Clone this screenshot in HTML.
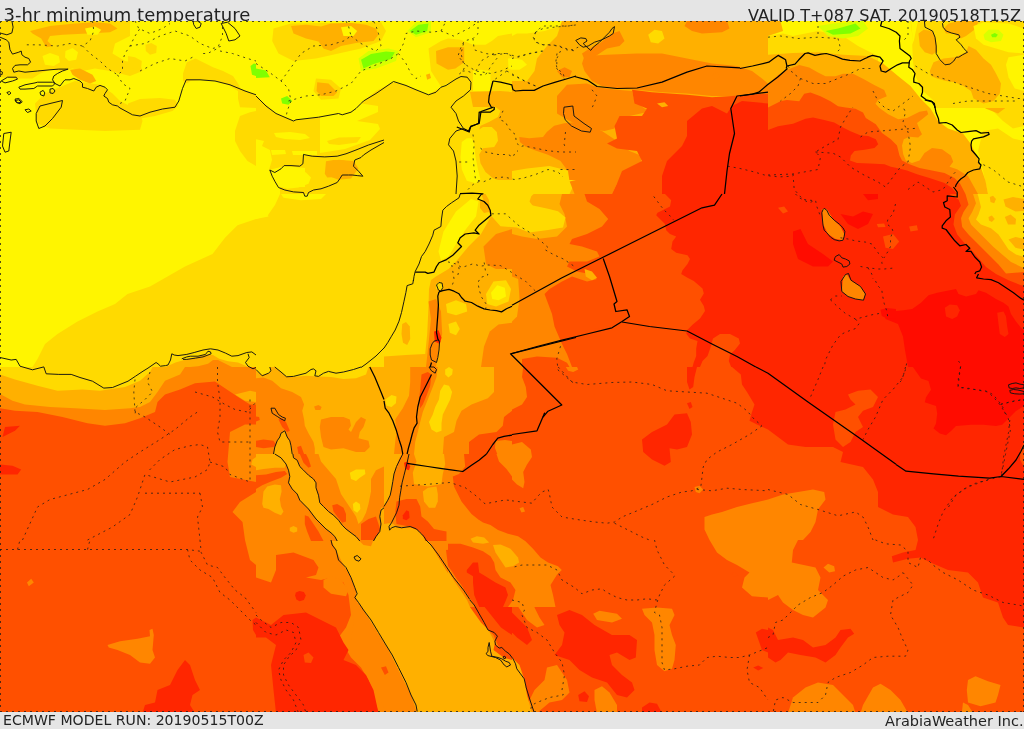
<!DOCTYPE html>
<html><head><meta charset="utf-8"><title>3-hr minimum temperature</title>
<style>
html,body{margin:0;padding:0;background:#e5e5e5;}
body{width:1024px;height:729px;position:relative;overflow:hidden;font-family:"DejaVu Sans","Liberation Sans",sans-serif;color:#222;}
.t{position:absolute;white-space:nowrap;line-height:30px;}
#map{position:absolute;left:0;top:21px;width:1024px;height:691px;display:block;}
.c{fill:none;stroke:#111;stroke-width:0.95;stroke-linejoin:round;}
.b{fill:none;stroke:#000;stroke-width:1.25;stroke-linejoin:round;}
.d{fill:none;stroke:#1a1a1a;stroke-width:1;stroke-dasharray:2 4;opacity:.75}
</style></head><body>
<div class="t" id="tl" style="left:3.5px;top:0px;font-size:18px">3-hr minimum temperature</div>
<div class="t" id="tr" style="left:748px;top:1px;font-size:16.1px">VALID T+087 SAT. 20190518T15Z</div>
<svg id="map" viewBox="0 21 1024 691" shape-rendering="geometricPrecision">
<rect x="0" y="21" width="1024" height="691" fill="#FF5000"/>
<polygon fill="#FF8600" points="0.0,367.0 256.0,367.0 256.0,404.5 250.0,404.5 240.0,398.2 225.0,388.2 215.0,381.5 195.0,383.2 180.0,389.5 165.0,394.5 157.5,402.0 155.0,412.0 140.0,418.2 125.0,423.2 105.0,425.8 87.5,423.2 62.5,417.0 37.5,412.0 15.0,410.8 0.0,408.2"/>
<polygon fill="#FF8600" points="230.0,432.0 245.0,424.5 256.0,424.5 256.0,482.0 230.0,477.0 227.5,462.0"/>
<polygon fill="#FF8600" points="256.0,492.0 240.0,502.0 232.5,512.0 242.5,522.0 245.0,540.0 256.0,540.0"/>
<polygon fill="#FFB000" points="0.0,367.0 185.0,367.0 180.0,374.5 165.0,380.8 157.5,392.0 150.0,402.0 140.0,407.0 130.0,408.2 105.0,410.0 75.0,408.2 50.0,407.0 25.0,404.5 12.5,400.8 0.0,394.0"/>
<polygon fill="#FFB000" points="235.0,394.5 250.0,390.8 256.0,392.0 256.0,402.0 245.0,400.8"/>
<polygon fill="#FFB000" points="256.0,457.0 252.5,459.5 251.2,464.5 256.0,467.0"/>
<polygon fill="#FFB000" points="256.0,367.0 512.0,367.0 512.0,540.0 256.0,540.0"/>
<polygon fill="#FFB000" points="331.0,540.0 428.5,540.0 438.5,557.5 451.0,577.5 463.5,595.0 476.0,612.5 488.5,627.5 496.0,637.5 493.5,650.0 503.5,657.5 512.0,660.0 512.0,713.0 416.0,713.0 406.0,695.0 396.0,675.0 386.0,657.5 378.5,645.0 373.5,635.0 366.0,622.5 358.5,610.0 353.5,602.5 353.5,590.0 348.5,577.5 341.0,565.0 333.5,550.0"/>
<polygon fill="#FFB000" points="512.0,21.0 768.0,21.0 768.0,194.0 512.0,194.0"/>
<polygon fill="#FFF500" points="768.0,21.0 1024.0,21.0 1024.0,194.0 768.0,194.0"/>
<polygon fill="#FFDA00" points="0.0,21.0 256.0,21.0 256.0,194.0 0.0,194.0"/>
<polygon fill="#FFDA00" points="0.0,194.0 256.0,194.0 256.0,367.0 0.0,367.0"/>
<polygon fill="#FFDA00" points="0.0,367.0 152.5,367.0 150.0,372.0 140.0,380.8 125.0,387.0 100.0,390.8 82.5,389.5 57.5,390.8 37.5,385.8 15.0,379.5 0.0,374.5"/>
<polygon fill="#FFDA00" points="256.0,21.0 512.0,21.0 512.0,194.0 256.0,194.0"/>
<polygon fill="#FFDA00" points="256.0,194.0 512.0,194.0 512.0,367.0 256.0,367.0"/>
<polygon fill="#FFDA00" points="274.8,367.0 368.5,367.0 366.0,374.5 356.0,378.2 343.5,378.9 331.0,377.0 318.5,376.4 306.0,375.8 293.5,377.0 286.6,376.8 281.0,372.0"/>
<polygon fill="#FFDA00" points="256.0,367.0 269.8,367.0 271.0,370.8 268.5,373.2 262.2,375.1 256.0,370.8"/>
<polygon fill="#FFDA00" points="512.0,21.0 562.0,21.0 557.0,36.0 547.0,46.0 537.0,58.5 534.5,71.0 527.0,81.0 512.0,81.0"/>
<polygon fill="#FFDA00" points="648.2,34.8 654.5,29.8 662.0,31.0 664.5,38.5 658.2,43.5 650.8,42.2"/>
<polygon fill="#FFDA00" points="512.0,171.0 527.0,168.5 549.5,166.0 569.5,171.0 574.5,183.5 569.5,194.0 512.0,194.0"/>
<polygon fill="#FFDA00" points="768.0,36.0 783.0,33.5 793.0,36.0 818.0,31.0 843.0,36.0 858.0,46.0 868.0,51.0 878.0,56.0 878.0,63.5 868.0,66.0 843.0,63.5 818.0,63.5 793.0,63.5 768.0,61.0"/>
<polygon fill="#FFDA00" points="910.5,21.0 958.0,21.0 968.0,31.0 973.0,46.0 988.0,61.0 1005.5,71.0 1018.0,81.0 1024.0,83.5 1024.0,126.0 1013.0,128.5 1003.0,121.0 993.0,111.0 983.0,103.5 968.0,101.0 955.5,96.0 943.0,86.0 930.5,73.5 923.0,58.5 913.0,41.0"/>
<polygon fill="#FFDA00" points="983.0,131.0 998.0,128.5 1013.0,138.5 1024.0,141.0 1024.0,194.0 988.0,194.0 983.0,171.0 978.0,151.0"/>
<polygon fill="#FFDA00" points="963.0,21.0 993.0,21.0 1008.0,26.0 1008.0,43.5 993.0,48.5 978.0,43.5 965.5,33.5"/>
<polygon fill="#FFF500" points="0.0,21.0 256.0,21.0 256.0,194.0 0.0,194.0"/>
<polygon fill="#FFF500" points="0.0,194.0 256.0,194.0 256.0,219.0 237.5,225.2 225.0,237.8 212.5,254.0 185.0,266.5 167.5,276.5 150.0,286.5 127.5,294.0 115.0,304.0 97.5,311.5 77.5,321.5 57.5,334.0 45.0,344.0 37.5,359.0 32.5,367.0 0.0,367.0"/>
<polygon fill="#FFF500" points="256.0,21.0 512.0,21.0 512.0,83.5 491.0,82.2 473.5,86.0 471.0,78.5 466.0,76.0 456.0,78.5 446.0,86.0 438.5,88.5 428.5,94.8 418.5,91.0 406.0,84.8 393.5,82.2 376.0,91.0 363.5,101.0 356.0,108.5 338.5,114.8 318.5,117.2 293.5,121.0 276.0,113.5 256.0,96.0"/>
<polygon fill="#FFF500" points="320.0,103.0 345.0,101.0 378.0,106.0 378.0,112.0 357.0,121.0 378.0,124.0 380.0,129.0 370.0,140.0 345.0,149.0 320.0,153.0"/>
<polygon fill="#FFF500" points="274.0,133.0 290.0,132.0 305.0,134.0 310.0,138.0 300.0,140.0 285.0,139.0 276.0,137.0"/>
<polygon fill="#FFF500" points="242.0,140.0 255.0,139.0 264.0,141.0 262.0,146.0 250.0,146.0 243.0,144.0"/>
<polygon fill="#FFF500" points="271.0,150.0 285.0,150.0 286.0,154.0 272.0,155.0"/>
<polygon fill="#FFF500" points="292.0,151.0 317.0,151.0 317.0,155.0 293.0,155.0"/>
<polygon fill="#FFF500" points="269.0,170.0 285.0,166.0 305.0,168.0 305.0,187.0 280.0,187.0 272.0,180.0"/>
<polygon fill="#FFF500" points="256.0,146.0 262.0,146.0 270.0,150.0 272.0,160.0 269.0,170.0 272.0,180.0 280.0,187.0 280.0,194.0 275.0,205.0 268.0,215.0 256.0,219.0"/>
<polygon fill="#FFF500" points="256.0,194.0 271.0,194.0 266.0,201.5 256.0,201.5"/>
<polygon fill="#FFF500" points="256.0,209.0 266.0,211.5 268.5,216.5 256.0,219.0"/>
<polygon fill="#FFF500" points="281.0,194.0 326.0,194.0 321.0,199.0 301.0,200.2 283.5,197.8"/>
<polygon fill="#FFF500" points="512.0,21.0 562.0,21.0 559.5,26.0 544.5,31.0 527.0,33.5 517.0,33.5 512.0,36.0"/>
<polygon fill="#FFF500" points="512.0,58.5 522.0,59.8 527.0,64.8 519.5,69.8 512.0,69.8"/>
<polygon fill="#FF8600" points="584.5,56.0 607.0,54.8 637.0,53.5 662.0,53.5 687.0,58.5 712.0,63.5 737.0,66.0 752.0,71.0 762.0,78.5 768.0,83.5 768.0,93.5 752.0,96.0 737.0,96.0 712.0,96.0 687.0,93.5 662.0,92.2 637.0,89.8 617.0,88.5 602.0,86.0 592.0,81.0 584.5,71.0 582.0,63.5"/>
<polygon fill="#FF8600" points="582.0,53.5 589.5,48.5 599.5,43.5 612.0,33.5 619.5,31.0 624.5,41.0 619.5,46.0 607.0,48.5 592.0,58.5 584.5,59.8"/>
<polygon fill="#FF8600" points="687.0,21.0 727.0,21.0 729.5,28.5 722.0,32.2 702.0,33.5 692.0,31.0 684.5,26.0"/>
<polygon fill="#FF8600" points="557.0,71.0 564.5,67.2 572.0,71.0 569.5,77.2 562.0,77.2"/>
<polygon fill="#FF8600" points="557.0,96.0 567.0,84.8 587.0,83.5 597.0,87.2 617.0,89.8 632.0,91.0 634.5,101.0 644.5,108.5 652.0,111.0 629.5,116.0 617.0,121.0 614.5,128.5 604.5,131.0 587.0,128.5 569.5,121.0 557.0,113.5"/>
<polygon fill="#FF8600" points="519.2,137.0 529.2,138.2 543.0,137.0 546.8,132.0 554.2,125.8 564.2,123.2 576.0,122.0 587.0,124.8 602.0,131.0 617.0,141.0 629.5,151.0 642.0,156.0 639.5,171.0 624.5,176.0 617.0,183.5 612.0,194.0 574.5,194.0 569.5,181.0 568.0,171.0 560.5,161.0 548.0,154.8 535.5,150.5 525.5,146.5 519.9,142.0"/>
<polygon fill="#FF8600" points="512.0,194.0 584.5,194.0 587.0,201.5 599.5,209.0 608.2,219.0 602.0,226.5 587.0,234.0 572.0,239.0 569.5,244.0 582.0,246.5 597.0,251.5 599.5,256.5 587.0,261.5 569.5,261.5 567.0,266.5 577.0,271.5 589.5,274.0 597.0,279.0 587.0,281.5 572.0,276.5 562.0,281.5 549.5,289.0 544.5,294.0 552.0,314.0 554.5,326.5 562.0,344.0 567.0,354.0 572.0,367.0 512.0,367.0"/>
<polygon fill="#FFB000" points="768.0,21.0 780.5,21.0 783.0,31.0 768.0,36.0"/>
<polygon fill="#FFB000" points="768.0,54.8 793.0,53.0 818.0,52.2 843.0,54.8 868.0,56.0 883.0,63.5 898.0,76.0 910.5,86.0 920.5,98.5 930.5,108.5 938.0,121.0 948.0,128.5 963.0,133.5 970.5,143.5 975.5,153.5 980.5,166.0 985.5,181.0 988.0,194.0 768.0,194.0"/>
<polygon fill="#FFB000" points="920.5,31.0 933.0,26.0 943.0,36.0 943.0,53.5 938.0,63.5 928.0,58.5 923.0,46.0"/>
<polygon fill="#FFB000" points="983.0,96.0 993.0,91.0 1005.5,96.0 1008.0,106.0 998.0,113.5 985.5,108.5"/>
<polygon fill="#FFB000" points="933.0,71.0 943.0,66.0 963.0,68.5 973.0,73.5 968.0,81.0 948.0,81.0 935.5,78.5"/>
<polygon fill="#FFDA00" points="0.0,21.0 130.0,21.0 130.0,36.0 115.0,43.5 112.5,53.5 125.0,61.0 140.0,63.5 142.5,71.0 130.0,76.0 110.0,71.0 95.0,68.5 82.5,71.0 72.5,68.5 62.5,71.0 50.0,69.8 40.0,73.5 32.5,78.5 15.0,78.5 0.0,77.2"/>
<polygon fill="#FFDA00" points="35.0,103.5 45.0,93.5 62.5,86.0 75.0,81.0 100.0,84.8 112.5,93.5 120.0,101.0 130.0,106.0 140.0,111.0 142.5,121.0 140.0,129.8 105.0,131.0 50.0,128.5 37.5,123.5"/>
<polygon fill="#FFDA00" points="183.0,73.5 186.8,62.2 195.5,58.5 203.0,62.2 213.0,67.2 223.0,71.0 233.0,76.0 238.0,83.5 240.5,88.5 256.0,94.8 256.0,101.0 240.5,97.2 238.0,91.0 228.0,84.8 215.5,81.0 203.0,79.8 190.5,81.0 186.8,83.5 183.0,81.0"/>
<polygon fill="#FFDA00" points="128.0,56.0 135.0,57.2 141.8,61.0 141.2,67.2 133.8,69.0 128.0,67.2"/>
<polygon fill="#FFDA00" points="145.5,44.8 151.2,43.0 156.8,46.0 156.2,53.0 150.0,54.8 145.8,51.0"/>
<polygon fill="#FFDA00" points="238.0,91.0 247.5,93.5 256.0,94.8 256.0,108.0 240.0,107.2 238.0,98.5"/>
<polygon fill="#FFDA00" points="128.0,103.5 140.0,99.0 160.0,98.0 175.0,99.8 178.0,106.0 172.5,111.0 155.0,116.0 140.0,118.5 128.0,116.0"/>
<polygon fill="#FFDA00" points="235.0,131.0 240.0,116.0 250.0,112.2 256.0,111.0 256.0,166.0 247.5,161.0 240.0,151.0 235.0,141.0"/>
<polygon fill="#FFDA00" points="273.5,28.5 291.0,23.5 381.0,22.2 386.0,31.0 381.0,41.0 361.0,48.5 338.5,53.5 316.0,58.5 293.5,61.0 278.5,53.5 272.2,41.0"/>
<polygon fill="#FFDA00" points="316.0,78.5 331.0,79.8 341.0,88.5 338.5,98.5 321.0,99.8 313.5,91.0"/>
<polygon fill="#FFDA00" points="428.5,48.5 441.0,41.0 448.0,38.5 460.5,39.8 473.0,44.8 485.5,44.8 491.8,41.0 498.0,36.0 512.0,33.5 512.0,83.5 492.2,82.2 491.0,81.0 471.0,82.2 467.2,77.2 461.0,76.5 456.0,79.0 448.0,83.5 441.0,86.5 431.0,71.0"/>
<polygon fill="#FFDA00" points="327.0,141.0 339.0,137.5 361.0,137.0 357.0,142.5 339.0,145.0 329.0,144.0"/>
<polygon fill="#FF5000" points="632.0,89.8 652.0,92.2 687.0,94.8 712.0,97.2 732.0,96.0 768.0,93.5 768.0,194.0 612.0,194.0 617.0,183.5 622.0,171.0 642.0,161.0 637.0,151.0 617.0,148.5 607.0,143.5 617.0,138.5 614.5,126.0 619.5,116.0 642.0,116.0 647.0,108.5 634.5,103.5"/>
<polygon fill="#FF8600" points="712.0,74.8 717.0,72.2 719.5,77.2 714.5,79.0"/>
<polygon fill="#FFB000" points="657.0,103.5 664.5,102.2 668.2,106.0 662.0,107.2"/>
<polygon fill="#FF5000" points="522.0,359.0 537.0,356.5 557.0,357.8 567.0,362.8 569.5,367.0 522.0,367.0"/>
<polygon fill="#FFB000" points="512.0,194.0 562.0,194.0 559.5,204.0 564.5,214.0 567.0,226.5 557.0,236.5 537.0,239.0 522.0,236.5 512.0,234.0"/>
<polygon fill="#FFB000" points="512.0,276.5 518.2,279.0 519.5,299.0 517.0,316.5 512.0,321.5"/>
<polygon fill="#FFB000" points="584.5,269.0 592.0,271.5 597.0,277.8 592.0,280.2 585.8,276.5"/>
<polygon fill="#FF8600" points="768.0,83.8 778.0,75.0 786.8,70.0 799.2,65.0 809.2,67.5 818.0,72.5 825.5,76.2 835.5,76.2 843.0,73.8 853.0,73.8 858.0,76.2 863.0,78.8 874.2,85.0 884.2,90.0 886.8,96.2 878.0,100.0 875.5,103.8 879.5,108.0 888.2,114.2 898.2,119.2 907.0,118.0 919.5,111.8 927.0,110.5 928.2,114.2 922.0,119.2 917.0,123.0 919.5,129.2 922.0,134.2 918.2,137.5 909.5,136.8 903.8,139.2 902.0,145.5 903.2,154.2 905.8,160.5 912.0,163.0 919.5,160.5 924.5,153.0 932.0,148.0 942.0,149.2 950.8,155.5 953.2,161.8 949.5,166.8 957.0,169.2 968.0,176.0 978.0,194.0 768.0,194.0"/>
<polygon fill="#FFF500" points="42.5,56.0 50.0,53.0 58.8,56.0 60.0,62.2 53.8,66.0 45.0,64.8"/>
<polygon fill="#FFF500" points="65.5,51.0 72.5,48.0 78.0,52.2 76.2,59.8 68.8,61.0 65.0,57.2"/>
<polygon fill="#FFB000" points="165.5,367.0 175.5,362.5 184.2,360.0 196.8,356.9 205.5,354.4 213.0,355.0 219.2,358.8 228.0,361.2 238.0,362.5 246.8,366.2 248.0,367.0"/>
<polygon fill="#FFB000" points="291.0,26.0 306.0,24.8 321.0,26.5 331.0,23.5 351.0,23.0 366.0,24.8 376.0,28.5 378.5,34.8 373.5,41.0 356.0,43.0 341.0,46.0 331.0,51.0 323.5,48.5 318.5,41.5 306.0,38.5 293.5,33.5"/>
<polygon fill="#FFB000" points="426.0,74.8 429.8,73.5 431.0,78.0 427.2,79.8"/>
<polygon fill="#FFB000" points="317.2,82.2 328.5,83.5 337.2,92.2 333.5,96.0 321.0,96.0 316.5,91.0"/>
<polygon fill="#FFB000" points="327.2,162.2 338.5,159.8 353.5,161.0 358.5,168.5 351.0,178.5 338.5,179.8 328.5,176.0"/>
<polygon fill="#FFB000" points="436.0,51.0 448.0,47.2 464.2,47.2 464.2,62.2 455.5,68.5 448.0,69.8 436.5,63.5"/>
<polygon fill="#FFF500" points="473.0,71.0 481.0,69.8 490.5,71.0 490.5,91.0 473.0,91.0"/>
<polygon fill="#FFF500" points="508.0,58.5 512.0,58.0 512.0,69.8 508.5,69.0"/>
<polygon fill="#FFB000" points="470.0,92.0 500.0,91.0 512.0,92.0 512.0,181.5 504.2,182.0 493.0,178.2 485.5,172.0 480.5,163.2 479.2,154.5 483.0,148.2 494.2,147.0 498.0,140.8 496.8,132.0 491.8,127.0 483.0,127.0 479.2,129.5 480.5,125.8 489.0,122.0 498.0,117.0 500.5,110.8 495.5,107.0 473.0,107.0"/>
<polygon fill="#FFB000" points="481.0,194.0 512.0,194.0 512.0,367.0 384.0,367.0 384.0,356.5 406.0,355.0 425.2,354.0 427.2,334.0 428.5,306.5 429.0,289.0 431.0,280.0 436.0,276.5 448.5,269.0 456.0,261.5 468.5,246.5 481.0,234.0 491.0,216.5"/>
<polygon fill="#FF8600" points="256.0,378.2 263.5,377.6 272.2,380.8 281.0,388.2 292.2,392.0 301.0,397.0 304.1,404.5 302.2,410.8 304.1,419.5 304.8,425.8 308.5,433.2 313.5,442.0 314.8,448.2 314.8,454.0 256.0,454.0"/>
<polygon fill="#FF8600" points="321.0,419.5 331.0,417.0 343.5,417.0 349.8,419.5 351.0,425.8 348.5,429.5 351.0,432.0 356.0,422.0 361.0,417.0 366.0,419.5 363.5,427.0 359.8,432.0 358.5,438.2 368.5,440.8 369.8,447.0 364.8,452.0 356.0,452.0 343.5,448.2 331.0,449.5 323.5,447.0 321.0,437.0 319.8,427.0"/>
<polygon fill="#FF8600" points="314.1,406.4 318.5,405.1 321.6,407.0 320.4,410.1 315.4,410.1"/>
<polygon fill="#FF8600" points="410.2,367.0 437.8,367.0 436.5,377.0 432.8,387.0 427.8,399.5 422.8,412.0 420.2,422.0 417.8,432.0 415.2,442.0 414.0,454.0 394.0,454.0 395.2,442.0 396.5,432.0 395.2,419.5 402.8,408.2 409.0,395.8 410.2,382.0"/>
<polygon fill="#FF8600" points="494.0,367.0 512.0,367.0 512.0,454.0 442.8,454.0 444.0,437.0 454.0,432.0 456.5,420.8 461.5,410.8 471.5,404.5 487.8,398.2 494.0,392.0"/>
<polygon fill="#FF8600" points="256.0,454.0 384.0,454.0 384.0,541.0 256.0,541.0"/>
<polygon fill="#FF8600" points="384.0,454.0 512.0,454.0 512.0,541.0 384.0,541.0"/>
<polygon fill="#FF8600" points="256.0,540.0 331.0,540.0 336.0,550.0 343.5,565.0 351.0,577.5 356.0,590.0 356.0,600.0 363.5,610.0 376.0,630.0 388.5,650.0 401.0,675.0 411.0,695.0 417.2,713.0 256.0,713.0"/>
<polygon fill="#FF8600" points="428.5,540.0 512.0,540.0 512.0,660.0 496.0,645.0 488.5,630.0 476.0,612.5 463.5,595.0 451.0,577.5 438.5,557.5"/>
<polygon fill="#FF2600" points="687.0,121.0 702.0,108.5 712.0,106.0 727.0,113.5 732.0,106.0 742.0,101.0 768.0,103.5 768.0,194.0 662.0,194.0 662.0,176.0 667.0,161.0 682.0,146.0 687.0,136.0"/>
<polygon fill="#FFDA00" points="512.0,194.0 532.0,194.0 529.5,201.5 537.0,211.5 547.0,219.0 542.0,226.5 532.0,231.5 522.0,229.0 512.0,224.0"/>
<polygon fill="#FF5000" points="768.0,107.5 780.5,101.2 786.8,100.0 799.2,101.2 804.2,93.8 810.5,92.5 820.5,96.2 830.5,101.2 838.0,106.2 845.5,107.5 855.5,108.8 863.0,112.5 865.8,118.0 875.8,124.2 882.0,133.0 890.8,139.2 897.0,145.5 899.5,155.5 902.0,160.5 909.5,164.2 919.5,168.0 932.0,170.5 944.5,173.0 954.5,178.0 960.0,183.5 965.5,194.0 768.0,194.0"/>
<polygon fill="#FFB000" points="30.0,31.0 50.0,26.0 75.0,23.5 95.0,22.2 110.0,23.5 117.5,28.5 110.0,32.2 87.5,33.5 62.5,34.8 50.0,36.0 47.5,41.0 52.5,46.0 46.2,47.2 41.2,38.5 32.5,33.5"/>
<polygon fill="#FFF500" points="85.0,28.5 95.0,26.5 101.2,29.8 97.5,34.8 87.5,34.8"/>
<polygon fill="#FFB000" points="70.0,69.8 80.0,68.5 92.5,74.8 96.2,81.0 90.0,83.5 80.0,79.8 72.5,74.8"/>
<polygon fill="#FF8600" points="190.0,367.0 198.0,366.2 208.0,363.8 213.0,360.0 218.0,360.0 228.0,365.0 232.0,367.0"/>
<polygon fill="#FFF500" points="341.0,27.2 351.0,26.0 357.2,31.0 353.5,36.0 343.5,36.0"/>
<polygon fill="#D8FF00" points="358.5,58.5 368.5,51.0 388.5,48.5 398.5,51.0 396.0,61.0 376.0,68.5 361.0,71.0"/>
<polygon fill="#D8FF00" points="407.2,31.0 416.0,22.2 431.0,21.0 431.0,32.2 416.0,37.2"/>
<polygon fill="#FFF500" points="461.8,142.0 466.8,138.2 471.8,138.2 474.2,144.5 475.5,157.0 478.0,169.5 480.5,179.5 475.5,183.2 466.8,180.8 461.8,169.5 460.5,157.0"/>
<polygon fill="#FFF500" points="438.5,251.5 443.5,231.5 456.0,211.5 471.0,199.0 478.5,201.5 476.0,216.5 466.0,229.0 456.0,244.0 448.5,256.5 441.0,260.2"/>
<polygon fill="#FF8600" points="483.5,246.5 496.0,234.0 512.0,229.0 512.0,269.0 496.0,269.0 486.0,264.0"/>
<polygon fill="#FF8600" points="512.0,322.8 498.5,324.5 489.8,331.5 484.0,346.5 481.0,367.0 512.0,367.0"/>
<polygon fill="#FF8600" points="428.5,301.5 436.0,299.0 441.0,311.5 442.2,334.0 438.5,349.0 436.0,367.0 426.0,367.0 428.5,344.0 431.0,319.0"/>
<polygon fill="#FFDA00" points="486.0,294.0 493.5,281.5 506.0,280.2 511.0,289.0 508.5,301.5 496.0,306.5 487.2,304.0"/>
<polygon fill="#FFDA00" points="446.0,304.0 456.0,300.2 466.0,304.0 467.2,311.5 456.0,315.2 447.2,312.8"/>
<polygon fill="#FFDA00" points="448.5,324.0 456.0,321.5 459.8,329.0 456.0,335.2 449.8,332.8"/>
<polygon fill="#FFDA00" points="436.0,284.0 441.0,281.5 443.5,287.8 439.8,290.2 436.0,289.0"/>
<polygon fill="#FFB000" points="402.2,324.0 406.0,322.0 409.8,326.5 410.2,339.0 407.2,345.0 403.0,342.8 401.5,334.0"/>
<polygon fill="#FFB000" points="273.5,454.0 274.8,447.0 277.2,440.8 281.0,433.2 284.8,430.1 287.2,437.0 290.4,442.0 291.6,447.0 292.9,454.0"/>
<polygon fill="#FFDA00" points="385.2,399.5 391.5,395.1 396.5,396.4 395.9,403.2 391.5,407.0 386.5,405.8"/>
<polygon fill="#FFDA00" points="444.0,384.5 449.0,385.8 452.1,392.0 450.2,399.5 446.5,407.0 442.8,414.5 441.5,423.2 441.5,430.8 436.5,432.6 431.5,429.5 429.0,422.0 432.8,414.5 435.2,407.0 439.0,399.5 440.2,390.8"/>
<polygon fill="#FFDA00" points="445.2,369.5 449.0,367.0 452.8,369.5 452.1,374.5 448.4,377.6 445.2,374.5"/>
<polygon fill="#FFB000" points="274.8,454.0 292.9,454.0 293.5,457.8 297.2,460.2 299.8,466.5 303.5,470.2 308.5,475.2 313.5,479.0 316.0,482.8 316.0,487.8 318.5,495.2 319.8,502.8 323.5,506.5 328.5,511.5 333.5,515.2 338.5,520.2 342.2,525.2 346.0,529.0 351.0,532.8 356.0,536.5 359.8,541.0 337.2,541.0 334.8,536.5 331.0,532.8 326.0,529.0 321.0,524.0 316.0,519.0 312.2,514.0 308.5,509.0 303.5,504.0 299.8,500.2 297.2,494.0 292.2,489.0 288.5,482.8 289.8,476.5 288.5,470.2 286.0,464.0 281.0,457.8"/>
<polygon fill="#FFB000" points="318.5,454.0 384.0,454.0 384.0,466.5 376.0,470.2 371.0,479.0 371.0,491.5 368.5,504.0 366.0,512.8 362.2,520.2 358.5,524.0 356.0,516.5 351.0,509.0 346.0,501.5 341.0,494.0 338.5,486.5 336.0,479.0 328.5,470.2 321.0,461.5"/>
<polygon fill="#FFB000" points="262.2,504.0 263.5,491.5 267.2,486.5 274.8,484.6 281.0,485.2 281.6,491.5 279.8,499.0 281.0,506.5 283.5,511.5 281.0,515.2 274.8,512.8 268.5,509.0 263.5,507.8"/>
<polygon fill="#FFB000" points="289.8,527.8 293.5,525.9 297.2,527.8 297.2,531.5 293.5,532.8 289.8,530.9"/>
<polygon fill="#FFB000" points="256.0,454.0 274.8,454.0 281.0,457.8 286.0,464.0 284.8,467.8 274.8,467.8 263.5,469.0 256.0,470.2"/>
<polygon fill="#FFB000" points="384.0,454.0 401.5,454.0 399.0,459.0 396.5,466.5 394.0,474.0 392.8,481.5 391.5,489.0 390.2,495.2 387.8,500.2 384.0,506.5"/>
<polygon fill="#FFB000" points="414.0,454.0 444.0,454.0 445.2,464.0 442.8,474.0 441.5,484.0 427.8,486.5 414.0,484.0 412.8,472.8 416.5,461.5"/>
<polygon fill="#FFB000" points="422.8,491.5 427.8,487.8 436.5,486.5 437.8,494.0 437.8,501.5 435.2,507.8 429.0,507.8 424.0,501.5"/>
<polygon fill="#FF5000" points="276.0,555.0 293.5,552.5 313.5,560.0 318.5,567.5 316.0,575.0 306.0,577.5 321.0,580.0 331.0,577.5 343.5,582.5 348.5,595.0 351.0,615.0 346.0,627.5 338.5,637.5 331.0,635.0 256.0,635.0 256.0,577.5 271.0,582.5 276.0,570.0"/>
<polygon fill="#FF5000" points="256.0,635.0 331.0,635.0 343.5,645.0 351.0,657.5 361.0,667.5 368.5,680.0 373.5,695.0 378.5,713.0 256.0,713.0"/>
<polygon fill="#FF5000" points="446.0,550.0 468.5,547.5 491.0,550.0 512.0,565.0 512.0,660.0 501.0,652.5 493.5,635.0 481.0,622.5 468.5,605.0 456.0,587.5 448.5,570.0"/>
<polygon fill="#FF2600" points="665.0,194.0 768.0,194.0 768.0,367.0 692.5,367.0 693.8,362.2 696.2,356.0 696.2,348.5 697.5,341.0 690.0,338.5 686.2,333.5 687.5,329.8 692.5,324.8 700.0,318.5 705.0,311.0 703.8,306.0 700.0,299.8 703.8,293.5 702.5,288.5 693.8,281.0 687.5,277.8 681.2,274.0 682.5,270.2 687.5,264.0 690.0,259.0 687.5,255.2 676.2,252.8 671.2,249.0 672.5,241.5 676.2,236.5 670.0,234.0 666.2,230.2 665.0,224.0 656.2,215.2 657.5,212.8 670.0,206.5 671.2,200.2"/>
<polygon fill="#FF2600" points="768.0,130.0 778.0,126.2 793.0,123.8 805.5,118.8 813.0,117.5 824.2,120.0 834.2,122.5 843.0,127.5 850.5,131.2 860.8,135.5 868.2,136.0 875.8,139.2 878.2,144.2 874.5,148.0 864.5,149.8 854.5,151.0 850.8,155.5 850.0,160.5 857.0,163.0 869.5,163.6 884.5,164.2 890.8,166.8 897.0,168.0 907.0,170.5 917.0,174.2 929.5,178.0 944.5,183.0 952.0,188.0 957.0,194.0 768.0,194.0"/>
<polygon fill="#FF2600" points="768.0,194.0 1024.0,194.0 1024.0,367.0 768.0,367.0"/>
<polygon fill="#FF2600" points="768.0,367.0 1024.0,367.0 1024.0,540.0 918.0,540.0 915.5,527.0 908.0,517.0 893.0,514.5 878.0,507.0 878.0,492.0 873.0,479.5 863.0,467.0 840.5,462.0 843.0,452.0 833.0,447.0 805.5,447.0 788.0,444.5 778.0,437.0 768.0,429.5"/>
<polygon fill="#80FF00" points="250.5,66.0 253.8,63.5 256.0,64.0 256.0,76.0 252.0,74.8"/>
<polygon fill="#80FF00" points="361.0,59.8 371.0,54.0 386.0,51.5 394.8,52.2 391.0,59.0 373.5,64.0 363.5,68.5"/>
<polygon fill="#80FF00" points="409.8,31.0 418.5,24.8 428.5,23.5 427.2,31.0 416.0,34.8"/>
<polygon fill="#80FF00" points="256.0,68.5 266.0,70.5 269.8,77.2 256.0,78.0"/>
<polygon fill="#80FF00" points="281.0,98.5 287.2,96.0 292.2,101.0 288.5,104.8 282.2,103.5"/>
<polygon fill="#FFF500" points="491.0,292.8 497.2,285.2 504.8,287.8 506.0,296.5 498.5,300.2 492.2,299.0"/>
<polygon fill="#FF5000" points="278.5,419.5 282.2,418.2 286.0,422.0 289.8,430.8 287.2,432.0 282.2,427.0"/>
<polygon fill="#FF5000" points="256.0,416.4 259.1,417.0 259.8,420.1 256.0,421.4"/>
<polygon fill="#FF5000" points="256.0,440.8 263.5,439.5 273.5,440.8 276.0,444.5 273.5,447.0 263.5,448.2 256.0,447.0"/>
<polygon fill="#FF5000" points="297.2,447.0 301.0,445.8 304.1,454.0 298.5,454.0"/>
<polygon fill="#FF5000" points="421.5,374.5 427.8,372.0 431.5,374.5 430.2,385.8 426.5,395.8 422.8,404.5 420.2,408.2 419.0,399.5 420.2,389.5"/>
<polygon fill="#FF5000" points="512.0,410.8 504.0,417.0 502.8,425.8 496.5,432.0 479.0,434.5 469.0,442.0 469.0,454.0 512.0,454.0"/>
<polygon fill="#FFDA00" points="349.8,472.8 356.0,469.6 364.8,469.6 365.4,474.0 359.8,477.8 356.0,480.9 351.0,479.0"/>
<polygon fill="#FFDA00" points="352.9,504.0 356.0,501.5 359.8,504.0 360.4,509.0 357.2,512.8 353.5,510.2"/>
<polygon fill="#FF5000" points="256.0,475.2 266.0,474.6 276.0,472.1 284.8,470.9 287.2,474.0 281.0,477.8 271.0,481.5 262.2,485.2 256.0,489.0"/>
<polygon fill="#FF5000" points="304.8,515.2 308.5,516.5 313.5,524.0 318.5,531.5 323.5,541.0 311.0,541.0 307.2,531.5 304.8,524.0"/>
<polygon fill="#FF5000" points="299.8,454.0 306.0,454.0 308.5,459.0 311.0,466.5 308.5,467.8 303.5,462.8"/>
<polygon fill="#FF5000" points="332.2,505.2 337.2,504.0 343.5,507.8 346.0,514.0 346.0,521.5 342.2,522.8 337.2,516.5 333.5,511.5"/>
<polygon fill="#FF5000" points="361.0,524.0 368.5,519.0 376.0,516.5 378.5,524.0 381.0,531.5 381.0,541.0 361.0,541.0"/>
<polygon fill="#FF5000" points="464.0,454.0 496.5,454.0 499.0,461.5 506.5,469.0 512.0,476.5 512.0,534.0 496.5,534.0 484.0,524.0 471.5,514.0 461.5,501.5 454.0,486.5 452.8,476.5 459.0,474.0 465.2,466.5"/>
<polygon fill="#FF5000" points="396.5,501.5 406.5,499.0 416.5,499.0 420.2,506.5 421.5,516.5 427.8,521.5 434.0,529.0 446.5,531.5 446.5,541.0 426.5,541.0 421.5,534.0 409.0,526.5 396.5,524.0 395.2,512.8"/>
<polygon fill="#FF2600" points="256.0,617.5 271.0,625.0 283.5,615.0 306.0,612.5 321.0,620.0 336.0,627.5 343.5,642.5 348.5,650.0 343.5,660.0 356.0,665.0 366.0,675.0 373.5,690.0 378.5,713.0 276.0,713.0 273.5,690.0 271.0,665.0 276.0,645.0 266.0,637.5 256.0,637.5"/>
<polygon fill="#FF8600" points="351.0,602.5 358.5,612.5 366.0,625.0 376.0,635.0 381.0,647.5 391.0,660.0 401.0,680.0 408.5,697.5 416.0,713.0 386.0,713.0 378.5,695.0 373.5,680.0 366.0,665.0 356.0,655.0 351.0,640.0 353.5,622.5"/>
<polygon fill="#FF5000" points="381.0,667.5 386.0,666.2 388.5,672.5 384.8,675.0"/>
<polygon fill="#FF8600" points="323.5,580.0 331.0,576.2 341.0,580.0 348.5,590.0 346.0,596.2 331.0,593.8 323.5,587.5"/>
<polygon fill="#FF2600" points="468.5,567.5 476.0,561.2 481.0,572.5 496.0,585.0 512.0,595.0 512.0,635.0 501.0,627.5 491.0,615.0 481.0,602.5 473.5,590.0 468.5,580.0"/>
<polygon fill="#FFB000" points="488.5,540.0 512.0,540.0 512.0,565.0 501.0,555.0 493.5,547.5"/>
<polygon fill="#FF5000" points="713.0,338.5 720.0,334.0 730.0,334.0 738.8,338.5 740.0,343.5 735.0,349.8 730.0,354.8 728.8,361.0 731.2,367.0 700.0,367.0 702.5,361.0 707.5,356.0 710.0,349.0"/>
<polygon fill="#FF5000" points="594.5,329.0 598.2,327.8 600.8,331.0 597.0,332.0"/>
<polygon fill="#D8FF00" points="818.0,26.0 833.0,23.5 863.0,21.0 868.0,28.5 858.0,36.0 843.0,38.5 828.0,36.0"/>
<polygon fill="#D8FF00" points="980.5,33.5 990.5,28.5 1003.0,31.0 1005.5,39.8 995.5,44.8 983.0,42.2"/>
<polygon fill="#FF0C00" points="793.0,231.5 800.5,229.0 808.0,244.0 823.0,254.0 833.0,261.5 828.0,266.5 813.0,266.5 798.0,259.0 793.0,244.0"/>
<polygon fill="#FF0C00" points="840.5,214.0 853.0,216.5 863.0,211.5 873.0,214.0 868.0,224.0 858.0,229.0 848.0,224.0"/>
<polygon fill="#FF0C00" points="863.0,194.0 878.0,194.0 878.0,199.0 868.0,200.2"/>
<polygon fill="#FF0C00" points="883.0,309.0 896.0,311.0 903.5,310.2 912.2,309.0 921.0,302.8 928.5,295.2 937.2,292.8 956.0,289.0 958.5,294.0 966.0,296.5 976.0,294.0 978.5,290.2 986.0,292.8 996.0,299.0 1003.5,302.8 1008.5,306.5 1011.0,314.0 1016.0,321.5 1021.0,327.8 1024.0,330.2 1024.0,367.0 908.0,367.0 904.8,349.0 903.0,336.5 898.0,324.0 885.5,319.0"/>
<polygon fill="#FF5000" points="949.2,194.0 958.5,199.5 961.0,205.8 954.8,214.5 953.5,224.5 957.2,234.5 963.5,242.0 971.0,249.5 978.5,258.2 986.0,267.0 996.0,274.0 1008.5,280.2 1021.0,285.2 1024.0,285.8 1024.0,194.0"/>
<polygon fill="#FF5000" points="848.0,394.5 858.0,390.8 870.5,389.5 878.0,397.0 873.0,407.0 863.0,410.8 858.0,417.0 863.0,427.0 855.5,432.0 850.5,442.0 843.0,447.0 835.5,439.5 833.0,424.5 835.5,412.0 845.5,409.5 855.5,404.5 850.5,399.5"/>
<polygon fill="#FF0C00" points="909.8,367.0 1024.0,367.0 1024.0,406.0 1016.0,411.0 1008.5,418.5 1002.2,424.8 996.0,426.0 983.5,424.8 971.0,424.8 956.0,426.0 951.0,431.0 946.0,435.2 939.8,433.5 933.5,428.5 936.0,423.5 937.2,413.5 936.0,406.0 924.8,402.2 926.0,397.2 931.0,389.8 928.5,381.0 921.0,378.5 912.2,366.0"/>
<polygon fill="#FF5000" points="1024.0,442.0 1020.5,449.5 1020.0,459.5 1024.0,467.0"/>
<polygon fill="#FF2600" points="2.5,437.0 5.0,427.0 20.0,425.8 15.0,430.8"/>
<polygon fill="#FF2600" points="0.0,464.5 12.5,465.8 21.2,469.5 17.5,474.5 0.0,474.5"/>
<polygon fill="#FF8600" points="107.5,645.0 120.0,641.2 137.5,638.8 150.0,636.2 149.5,630.0 152.5,628.8 153.8,635.0 152.5,650.0 155.0,657.5 150.0,663.8 140.0,662.5 130.0,655.0 117.5,650.0 108.8,647.5"/>
<polygon fill="#FF8600" points="27.0,582.5 31.2,578.8 33.8,582.5 28.8,586.2"/>
<polygon fill="#FF2600" points="142.5,713.0 145.0,705.0 155.0,702.5 157.5,690.0 170.0,685.0 177.5,670.0 185.0,660.0 190.0,665.0 195.0,680.0 200.0,690.0 192.5,695.0 190.0,705.0 195.0,713.0"/>
<polygon fill="#FF2600" points="256.0,617.5 252.5,620.0 253.0,630.0 256.0,635.0"/>
<polygon fill="#FF8600" points="245.0,540.0 256.0,540.0 256.0,565.0 250.0,560.0 247.5,550.0"/>
<polygon fill="#FF2600" points="434.0,331.5 438.5,330.2 441.5,337.8 439.8,344.0 434.8,341.5"/>
<polygon fill="#FFB000" points="381.0,507.8 384.0,507.8 384.0,541.0 373.5,541.0 379.8,531.5 381.0,524.0 379.8,516.5"/>
<polygon fill="#FF2600" points="402.8,515.2 406.5,510.2 409.0,511.5 409.6,517.8 406.5,520.2 402.8,519.0"/>
<polygon fill="#FF2600" points="404.0,462.8 407.8,461.5 410.2,466.5 409.0,470.2 405.2,469.0"/>
<polygon fill="#FFB000" points="384.0,524.0 391.5,522.8 396.5,526.5 402.8,527.8 411.5,527.8 417.8,530.2 421.5,534.0 425.2,541.0 384.0,541.0"/>
<polygon fill="#FFB000" points="471.5,535.2 479.0,534.0 484.0,536.5 485.2,541.0 471.5,541.0"/>
<polygon fill="#FF8600" points="495.5,441.0 505.0,440.0 512.0,441.0 512.0,456.0 498.0,456.0 495.0,448.0"/>
<polygon fill="#FF5000" points="303.5,655.0 308.5,652.5 313.5,657.5 311.0,663.0 304.8,662.5"/>
<polygon fill="#FF8600" points="358.5,540.0 373.5,540.0 371.0,546.2 363.5,545.0"/>
<polygon fill="#FF8600" points="512.0,367.0 523.2,367.0 522.0,377.0 525.8,387.0 527.0,397.0 522.0,404.5 512.0,409.5"/>
<polygon fill="#FF8600" points="512.0,444.5 522.0,442.0 530.8,449.5 532.0,457.0 527.0,464.5 523.2,472.0 524.5,482.0 523.2,488.2 517.0,484.5 512.0,479.5"/>
<polygon fill="#FF8600" points="565.8,367.0 577.0,367.0 578.2,369.5 573.2,372.0 568.2,370.8"/>
<polygon fill="#FF8600" points="519.5,508.2 523.2,507.0 525.0,511.5 521.5,512.5"/>
<polygon fill="#FF8600" points="694.5,487.0 699.5,485.8 703.2,489.5 699.5,493.2 695.8,492.0"/>
<polygon fill="#FF8600" points="704.5,517.0 712.0,514.5 722.0,512.0 737.0,507.0 752.0,503.2 768.0,499.5 768.0,540.0 709.5,540.0 704.5,529.5"/>
<polygon fill="#FF2600" points="642.0,439.5 652.0,432.0 667.0,424.5 674.5,414.5 687.0,413.2 690.8,422.0 692.0,434.5 687.0,447.0 677.0,449.5 669.5,448.2 670.8,462.0 664.5,465.8 652.0,459.5 643.2,452.0"/>
<polygon fill="#FF2600" points="687.0,367.0 697.0,367.0 694.5,377.0 693.2,387.0 689.5,389.5 687.0,382.0"/>
<polygon fill="#FF2600" points="687.0,403.2 690.8,402.0 692.5,407.0 689.5,409.0"/>
<polygon fill="#FF2600" points="732.0,367.0 768.0,367.0 768.0,429.5 757.0,424.5 749.5,420.8 752.0,412.0 754.5,404.5 747.0,392.0 742.0,384.5 740.8,374.5"/>
<polygon fill="#FF8600" points="512.0,540.0 529.5,540.0 542.0,555.0 552.0,562.5 562.0,570.0 559.5,577.5 552.0,582.5 549.5,595.0 554.5,602.5 544.5,605.0 537.0,600.0 534.5,607.5 539.5,617.5 544.5,625.0 537.0,627.5 527.0,620.0 517.0,605.0 512.0,597.5"/>
<polygon fill="#FF8600" points="534.5,690.0 544.5,680.0 547.0,667.5 557.0,665.0 567.0,680.0 569.5,692.5 562.0,700.0 549.5,702.5 537.0,713.0 527.0,713.0 529.5,700.0"/>
<polygon fill="#FF8600" points="594.5,690.0 602.0,686.2 609.5,692.5 617.0,705.0 617.0,713.0 597.0,713.0 594.5,700.0"/>
<polygon fill="#FF8600" points="593.2,613.8 599.5,610.8 617.0,613.8 622.0,618.8 612.0,622.5 597.0,620.0"/>
<polygon fill="#FF8600" points="642.0,608.8 657.0,607.5 672.0,608.8 674.5,615.0 669.5,625.0 672.0,635.0 675.8,645.0 674.5,660.0 672.0,668.8 664.5,671.2 657.0,665.0 654.5,650.0 654.5,635.0 652.0,622.5 644.5,615.0"/>
<polygon fill="#FF8600" points="709.5,540.0 768.0,540.0 768.0,597.5 752.0,596.2 742.0,587.5 744.5,577.5 749.5,572.5 737.0,565.0 727.0,560.0 717.0,552.5"/>
<polygon fill="#FF5000" points="730.8,573.8 734.5,572.0 738.2,575.0 734.5,577.0"/>
<polygon fill="#80FF00" points="825.5,31.0 838.0,28.5 855.5,23.5 860.5,28.5 850.5,33.5 833.0,34.8"/>
<polygon fill="#80FF00" points="986.8,34.8 993.0,32.2 999.2,35.5 995.5,39.8 989.2,39.0"/>
<polygon fill="#FF2600" points="944.8,307.8 949.8,304.5 957.2,305.2 959.8,310.2 957.2,316.5 952.2,319.0 946.0,316.5"/>
<polygon fill="#FF2600" points="997.2,312.8 1003.5,311.5 1006.0,316.5 1007.2,326.5 1008.5,334.0 1004.8,337.0 999.8,334.0 998.5,324.0"/>
<polygon fill="#FF5000" points="778.0,207.8 784.2,206.5 788.0,211.5 783.0,213.5"/>
<polygon fill="#FF5000" points="883.0,236.5 893.0,234.0 899.2,241.5 893.0,249.0 885.5,247.8"/>
<polygon fill="#FF5000" points="909.2,226.5 916.8,225.2 918.0,230.2 910.5,231.5"/>
<polygon fill="#FF5000" points="876.8,224.0 884.2,223.5 885.5,227.0 878.0,227.2"/>
<polygon fill="#FF8600" points="965.5,194.0 968.5,204.5 963.5,212.0 961.0,218.2 962.2,227.0 968.5,234.5 976.0,242.0 983.5,249.5 991.0,257.0 998.5,264.5 1006.0,273.5 1024.0,272.0 1024.0,194.0"/>
<polygon fill="#FF8600" points="821.8,209.0 826.8,209.0 833.0,219.0 840.5,226.5 844.2,234.0 843.0,240.2 835.5,239.0 828.0,234.0 823.0,224.0"/>
<polygon fill="#FF8600" points="843.0,276.5 846.8,274.0 850.5,280.2 860.5,286.5 865.5,294.0 863.0,300.2 855.5,299.0 848.0,296.5 841.8,291.5"/>
<polygon fill="#FF0C00" points="880.5,309.8 886.8,307.9 896.0,309.1 896.0,318.5 888.0,319.1 881.8,316.0"/>
<polygon fill="#FF8600" points="768.0,499.5 783.0,494.5 798.0,492.0 813.0,489.5 824.2,492.0 825.5,499.5 818.0,509.5 815.5,522.0 810.5,532.0 803.0,540.0 768.0,540.0"/>
<polygon fill="#FF8600" points="768.0,540.0 798.0,540.0 793.0,550.0 791.8,562.5 815.5,567.5 820.5,577.5 818.0,590.0 828.0,600.0 825.5,607.5 813.0,617.5 803.0,615.0 793.0,610.0 783.0,602.5 778.0,595.0 768.0,600.0"/>
<polygon fill="#FF8600" points="823.5,567.5 828.0,563.8 834.2,566.2 835.0,571.2 829.2,572.5"/>
<polygon fill="#FF8600" points="793.0,697.5 805.5,687.5 818.0,682.5 833.0,685.0 843.0,695.0 853.0,705.0 855.5,713.0 788.0,713.0"/>
<polygon fill="#FF8600" points="863.0,705.0 873.0,687.5 880.5,683.8 890.5,690.0 900.5,700.0 908.0,713.0 860.5,713.0"/>
<polygon fill="#FF8600" points="968.0,680.0 975.5,676.2 988.0,681.2 1000.5,685.0 998.0,695.0 995.5,702.5 980.5,706.2 968.0,702.5 966.8,690.0"/>
<polygon fill="#FF8600" points="963.0,702.5 968.0,705.0 973.0,713.0 961.8,713.0"/>
<polygon fill="#FFDA00" points="479.0,180.0 576.0,180.0 560.5,183.8 548.0,187.5 535.5,192.5 528.0,198.8 530.5,205.0 548.0,208.8 558.0,211.2 565.5,217.5 563.0,227.5 548.0,230.0 529.2,232.5 516.8,227.5 500.5,226.2 490.5,215.0 489.0,200.0 485.0,193.0 479.0,190.0"/>
<polygon fill="#FFB000" points="512.0,552.5 517.0,555.0 519.5,562.5 512.0,566.2"/>
<polygon fill="#FF2600" points="557.0,615.0 569.5,610.0 582.0,615.0 594.5,625.0 612.0,635.0 629.5,635.0 637.0,640.0 635.8,657.5 629.5,660.0 617.0,652.5 609.5,655.0 612.0,665.0 622.0,675.0 632.0,682.5 634.5,690.0 627.0,697.5 617.0,695.0 607.0,682.5 592.0,677.5 579.5,670.0 569.5,660.0 554.5,655.0 562.0,645.0 564.5,632.5 559.5,625.0"/>
<polygon fill="#FF2600" points="512.0,612.5 519.5,620.0 527.0,627.5 532.0,640.0 527.0,645.0 517.0,637.5 512.0,632.5"/>
<polygon fill="#FF2600" points="578.2,695.0 584.5,691.2 589.0,696.2 587.0,702.0 579.5,701.2"/>
<polygon fill="#FF2600" points="642.0,707.5 649.5,702.5 657.0,703.8 662.0,713.0 642.0,713.0"/>
<polygon fill="#FF2600" points="755.8,632.5 762.0,628.8 768.0,630.0 768.0,652.5 762.0,650.0"/>
<polygon fill="#FF2600" points="753.2,667.5 758.2,665.5 763.2,668.0 758.2,670.5"/>
<polygon fill="#FFB000" points="973.0,194.0 976.0,203.2 972.2,212.0 968.5,218.2 971.0,224.5 978.5,232.0 986.0,239.5 993.5,247.0 1002.2,254.5 1011.0,262.0 1024.0,268.2 1024.0,194.0"/>
<polygon fill="#FF2600" points="918.0,540.0 1024.0,540.0 1024.0,627.5 1008.0,625.0 1003.0,617.5 998.0,602.5 983.0,597.5 978.0,582.5 968.0,572.5 948.0,570.0 930.5,562.5 920.5,557.5 908.0,558.8 893.0,562.5 891.8,556.2 903.0,552.5 915.5,550.0"/>
<polygon fill="#FF2600" points="768.0,627.5 773.0,630.0 778.0,640.0 793.0,637.5 803.0,640.0 813.0,647.5 825.5,645.0 835.5,637.5 840.5,630.0 850.5,628.8 854.2,633.8 848.0,637.5 840.5,647.5 835.5,655.0 825.5,662.5 815.5,657.5 800.5,655.0 788.0,652.5 780.5,660.0 775.5,662.5 768.0,657.5"/>
<polygon fill="#FFB000" points="480.0,201.0 485.0,199.0 489.0,205.0 489.0,212.0 484.0,213.0 480.0,208.0"/>
<polygon fill="#FFB000" points="512.0,657.5 519.5,665.0 524.5,680.0 527.0,695.0 532.0,713.0 512.0,713.0"/>
<polygon fill="#FFDA00" points="977.5,194.0 978.5,197.0 981.0,207.0 978.5,214.5 976.0,219.5 981.0,224.5 991.0,228.2 998.5,234.5 1003.5,242.0 1008.5,249.5 1016.0,254.5 1024.0,257.0 1024.0,194.0"/>
<polygon fill="#FFB000" points="1003.5,199.5 1013.0,197.0 1024.0,199.0 1024.0,210.8 1015.5,211.5 1005.5,206.5"/>
<polygon fill="#FFB000" points="1004.8,217.0 1010.5,214.5 1016.0,219.0 1015.5,224.5 1008.0,224.5"/>
<polygon fill="#FFB000" points="988.5,217.0 991.8,215.5 994.8,219.0 991.8,222.0 989.0,220.5"/>
<polygon fill="#FFB000" points="1008.5,239.5 1015.5,237.0 1024.0,239.0 1024.0,249.5 1015.5,247.8"/>
<polygon fill="#FFB000" points="989.8,197.0 993.0,195.8 996.0,199.0 994.2,203.2 990.5,202.0"/>
<polygon fill="#FF8600" points="448.0,520.0 576.0,520.0 576.0,607.0 448.0,607.0"/>
<polygon fill="#FF2600" points="295.8,592.5 299.5,591.0 303.9,591.9 305.8,595.6 303.9,600.0 299.5,601.2 296.4,599.4 295.1,595.6"/>
<polygon fill="#FF5000" points="479.2,520.0 576.0,520.0 576.0,607.0 555.5,607.0 553.0,595.0 550.5,585.0 556.8,575.0 561.8,570.0 558.0,566.2 548.0,562.5 540.5,557.5 533.0,548.8 525.5,541.2 518.0,536.2 508.0,533.8 498.0,530.0 490.5,525.0 483.0,522.5"/>
<polygon fill="#FF5000" points="448.0,543.8 460.5,543.8 473.0,547.5 483.0,551.2 490.5,556.2 494.2,562.5 495.5,570.0 500.5,577.5 510.5,582.5 515.5,590.0 513.0,600.0 508.0,607.0 473.0,607.0 466.8,595.0 455.5,580.0 448.0,572.5"/>
<polygon fill="#FF2600" points="466.8,570.0 473.0,562.5 478.0,562.5 479.2,572.5 485.5,576.2 495.5,582.5 505.5,587.5 508.0,595.0 505.5,601.2 503.0,607.0 479.2,607.0 474.2,595.0 473.0,582.5 473.0,576.2 466.8,572.5"/>
<polygon fill="#FFB000" points="470.5,538.8 476.8,536.2 484.2,537.5 489.2,542.5 483.0,543.8 473.0,542.5"/>
<polygon fill="#FFB000" points="493.0,545.0 500.5,544.4 510.5,548.8 518.0,557.5 519.2,562.5 513.0,566.2 505.5,567.5 500.5,560.0 495.5,552.5"/>
<polygon fill="#FF8600" points="448.0,566.0 452.0,571.5 456.0,578.0 461.0,584.5 465.0,591.0 469.0,597.0 473.0,603.0 475.5,607.0 448.0,607.0"/>
<polygon fill="#FFB000" points="448.0,571.0 450.5,575.0 454.5,581.5 459.0,588.0 463.0,594.0 467.0,600.0 470.0,607.0 448.0,607.0"/>
<polygon fill="#FFDA00" points="912.0,21.0 1024.0,21.0 1024.0,108.0 936.0,108.0 933.0,100.0 922.0,90.0 915.0,75.0 913.0,62.0 912.0,40.0"/>
<polygon fill="#FFB000" points="929.8,71.0 933.5,62.2 943.5,58.5 954.8,57.2 966.0,52.2 968.5,46.0 976.0,49.8 983.5,58.5 991.0,64.8 996.0,73.5 1001.0,83.5 999.8,93.5 993.5,101.0 983.5,103.5 973.5,98.5 971.0,91.0 963.5,86.0 954.8,82.2 946.0,81.0 937.2,78.5 931.0,76.0"/>
<polygon fill="#FFB000" points="943.5,28.5 948.5,23.5 958.5,21.0 978.5,21.0 976.0,28.5 966.0,36.0 961.0,38.5 953.5,33.5 946.0,33.5"/>
<polygon fill="#FFB000" points="918.5,33.5 923.5,29.8 932.2,31.0 936.0,39.8 937.2,51.0 932.2,54.8 924.8,52.2 919.8,46.0"/>
<polygon fill="#FFF500" points="973.5,26.0 983.5,22.2 1008.5,23.5 1024.0,28.5 1024.0,53.5 1008.5,52.2 996.0,48.5 983.5,44.8 976.0,38.5"/>
<polygon fill="#FFF500" points="1008.5,57.2 1024.0,54.8 1024.0,91.0 1014.8,88.5 1008.5,77.2 1006.0,64.8"/>
<polygon fill="#FFF500" points="912.0,21.0 911.0,21.0 912.2,33.5 912.0,45.0 914.0,40.0 916.0,30.0 918.0,21.0"/>
<polygon fill="#D8FF00" points="983.5,34.8 988.5,29.8 998.5,29.8 1003.5,34.8 1001.0,41.0 991.0,42.2 984.8,39.8"/>
<polygon fill="#80FF00" points="991.0,34.8 994.8,32.9 997.9,34.8 996.0,37.2 992.2,37.2"/>
<polygon fill="#FFF500" points="274.8,173.1 281.0,170.0 288.5,167.5 297.2,168.8 306.0,172.5 311.0,177.5 308.5,183.8 298.5,187.5 287.2,188.8 278.5,186.2 274.8,180.0"/>
<polygon fill="#FFB000" points="326.0,161.2 333.5,160.0 343.5,160.6 352.2,162.5 352.2,170.0 343.5,173.8 336.0,176.9 327.2,177.5 324.8,173.8"/>
<polyline class="c" points="256.0,369.5 258.5,372.0 262.2,375.8 268.5,373.2 271.0,370.8 269.8,367.0"/>
<polyline class="c" points="274.8,367.0 281.0,372.0 286.6,376.8 293.5,376.4 306.0,373.2 311.0,369.5 313.5,368.9 316.0,370.8 314.8,375.8 318.5,376.4 323.5,373.2 328.5,371.4 336.0,373.2 343.5,372.0 353.5,369.5 361.0,367.0"/>
<polyline class="b" points="369.8,367.0 374.8,377.0 381.0,392.0 384.0,399.5"/>
<polygon class="c" points="271.0,408.2 274.8,408.2 278.5,414.5 282.2,417.0 285.4,418.2 284.8,420.8 281.0,418.9 277.2,416.4 272.2,413.2"/>
<polyline class="c" points="284.8,430.8 281.0,433.2 279.8,437.0 277.2,440.8 274.8,447.0 273.5,454.0"/>
<polyline class="c" points="284.8,430.8 287.2,437.0 289.8,440.8 291.0,445.8 292.2,454.0"/>
<polyline class="b" points="384.0,400.8 385.2,408.2 389.0,413.2 392.8,420.8 396.5,430.8 399.0,439.5 401.5,447.0 402.8,454.0"/>
<polyline class="b" points="431.5,374.5 427.8,382.0 424.0,389.5 420.2,397.0 417.8,407.0 416.5,417.0 417.1,423.2 414.0,428.2 412.1,434.5 410.2,442.0 408.4,448.2 407.1,454.0"/>
<polygon class="c" points="429.0,367.0 431.5,370.8 435.2,373.2 436.5,369.5 434.0,367.0"/>
<polyline class="b" points="486.5,454.0 492.8,444.5 497.8,438.2 504.0,436.4 512.0,435.1"/>
<polyline class="c" points="274.8,454.0 281.0,457.8 286.0,464.0 288.5,470.2 289.8,476.5 288.5,482.8 292.2,489.0 297.2,494.0 299.8,500.2 303.5,504.0 308.5,509.0 312.2,514.0 316.0,519.0 321.0,524.0 326.0,529.0 331.0,532.8 334.8,536.5 337.2,541.0"/>
<polyline class="c" points="292.9,454.0 293.5,457.8 297.2,460.2 299.8,466.5 303.5,470.2 308.5,475.2 313.5,479.0 316.0,482.8 316.0,487.8 318.5,495.2 319.8,502.8 323.5,506.5 328.5,511.5 333.5,515.2 338.5,520.2 342.2,525.2 346.0,529.0 351.0,532.8 356.0,536.5 359.8,541.0"/>
<polyline class="c" points="384.0,507.8 381.0,510.2 379.8,516.5 381.0,524.0 379.8,531.5 376.0,536.5 373.5,541.0"/>
<polyline class="c" points="402.8,454.0 400.2,459.0 396.5,466.5 394.0,474.0 392.8,481.5 391.5,489.0 390.2,495.2 387.8,500.2 384.0,506.5"/>
<polyline class="c" points="409.0,454.0 407.1,462.8 405.9,467.8 404.0,475.2 402.1,482.8 400.9,490.2 399.6,497.8 399.0,505.2 396.5,512.8 394.0,517.8 391.5,522.8 389.0,526.5 389.6,530.2 391.5,527.8 395.2,526.5 401.5,527.8 410.2,526.5 416.5,529.0 420.2,532.8 424.0,536.5 426.5,541.0"/>
<polyline class="b" points="407.1,463.4 415.2,464.6 427.8,466.5 440.2,468.4 452.8,470.2 462.8,471.5 471.5,465.2 479.0,460.2 486.5,454.0"/>
<polyline class="d" points="653.8,196.5 657.5,201.5 661.2,206.5 665.0,210.9 670.0,215.9 673.8,220.2"/>
<polyline class="b" points="978.5,274.0 976.6,277.8 983.5,279.0 991.0,279.6 998.5,282.8 1006.0,287.8 1013.5,292.8 1021.0,298.4 1024.0,300.2"/>
<polyline class="b" points="953.5,187.0 957.2,192.0 957.2,197.0 947.2,195.8 947.2,200.8 943.5,202.6 944.8,207.0 949.8,209.5 950.4,217.0 946.0,220.8 942.2,225.8 942.2,228.2 946.0,229.5 949.8,234.5 954.8,240.8 958.5,244.5 959.8,245.8 966.0,244.5 969.8,248.2 966.0,251.4 971.0,251.4 974.8,257.0 979.8,262.0 981.6,267.0 979.8,270.8 976.0,272.0 974.8,274.0"/>
<polygon class="c" points="824.2,208.4 826.8,210.2 829.2,215.2 834.2,220.2 839.2,224.0 843.0,227.8 844.9,231.5 844.2,236.5 843.0,240.2 839.2,240.9 834.2,239.6 830.5,237.1 826.8,232.8 824.2,230.2 823.0,225.2 822.4,219.0 821.8,212.8 823.0,209.6"/>
<polygon class="c" points="835.5,256.5 839.2,254.6 841.8,257.8 845.5,259.0 849.2,260.9 849.9,264.0 846.8,266.5 843.0,267.1 841.8,264.0 838.0,262.1 834.2,260.2 834.9,257.8"/>
<polyline class="d" points="795.5,194.0 799.2,197.8 804.2,200.2 809.2,202.8 815.5,200.2 816.8,206.5 819.2,212.8 820.5,217.8"/>
<polyline class="d" points="840.5,237.8 848.0,239.0 855.5,240.9 865.5,242.1 871.8,244.0 875.5,249.0 878.0,252.8 880.5,255.2 883.0,257.8 881.8,262.8 883.0,266.5"/>
<polyline class="d" points="895.5,204.0 893.0,214.0 888.0,219.0 886.8,224.0 891.8,227.8 893.0,231.5 890.5,237.8 890.5,246.5 888.0,251.5 885.5,255.2 884.2,257.8"/>
<polyline class="d" points="860.5,266.5 868.0,267.8 878.0,269.0 884.2,269.0 896.0,267.8"/>
<polyline class="d" points="868.0,267.8 871.8,274.0 873.0,279.0"/>
<polygon class="c" points="845.5,274.5 848.5,273.5 851.0,280.2 860.5,286.5 865.5,294.0 863.5,300.2 855.5,299.0 848.0,296.5 841.8,291.5 841.0,281.5"/>
<polyline class="d" points="830.5,299.8 835.5,296.0 841.8,296.0"/>
<polyline class="d" points="830.5,299.8 838.0,307.2 845.5,313.5 855.5,319.1 863.0,317.2 871.8,314.8 879.2,313.5"/>
<polyline class="d" points="855.5,319.1 859.2,323.5 855.5,328.5 845.5,332.2 840.5,334.8 836.8,339.8 833.0,344.8 830.5,349.8 828.0,354.8 825.5,359.8 824.2,368.0"/>
<polyline class="d" points="875.5,281.0 878.0,286.0 881.8,289.8 882.4,294.8 884.2,303.5 886.8,311.0 888.0,318.5"/>
<polyline class="d" points="491.8,213.8 505.5,213.8 518.0,225.0 535.5,236.2 548.0,247.5"/>
<polyline class="d" points="727.8,166.2 741.5,168.8 754.0,171.9 766.5,175.6 779.0,176.9 792.8,176.2"/>
<polyline class="d" points="92.5,21.0 93.8,31.0 90.0,41.0 82.5,46.0 70.0,43.5 57.5,46.0 37.5,44.8 25.0,44.8"/>
<polyline class="d" points="82.5,46.0 90.0,53.5 100.0,61.0 107.5,68.5 117.5,74.8 122.5,71.0 122.5,61.0 125.0,53.5 130.0,46.0 135.0,36.0 140.0,28.5"/>
<polyline class="d" points="117.5,74.8 122.5,83.5 130.0,88.5 125.0,101.0 120.0,103.5"/>
<polyline class="d" points="130.0,46.0 145.0,43.5 160.0,36.0 175.0,31.0 190.0,36.0 200.0,43.5 212.5,48.5 222.5,46.0"/>
<polyline class="d" points="135.0,21.0 138.8,28.5 150.0,33.5 162.5,28.5 170.0,23.5"/>
<polyline class="d" points="140.0,71.0 155.0,63.5 170.0,58.5 185.0,61.0 195.0,56.0"/>
<polyline class="d" points="222.5,21.0 222.5,36.0 217.5,48.5 207.5,53.5 200.0,53.5"/>
<polyline class="d" points="220.0,51.0 232.5,53.5 247.5,58.5 256.0,61.0"/>
<polyline class="d" points="256.0,63.5 271.0,73.5 281.0,81.0 288.5,88.5 291.0,101.0 287.2,111.0 286.0,117.2"/>
<polyline class="d" points="281.0,81.0 288.5,71.0 301.0,53.5 313.5,46.0 331.0,44.8 343.5,41.0 351.0,36.0 348.5,26.0 346.0,21.0"/>
<polyline class="d" points="351.0,36.0 361.0,43.5 376.0,51.0 381.0,46.0 378.5,33.5 376.0,26.0 373.5,21.0"/>
<polyline class="d" points="288.5,101.0 306.0,96.0 321.0,94.8 336.0,91.0 351.0,83.5 361.0,71.0 373.5,66.0 391.0,58.5 398.5,53.5 403.5,43.5 406.0,33.5 416.0,31.0 431.0,32.2 441.0,31.0 446.0,21.0"/>
<polyline class="d" points="398.5,53.5 406.0,63.5 411.0,73.5 416.0,78.5 421.0,76.0"/>
<polyline class="d" points="441.0,31.0 453.5,36.0 468.5,28.5 476.0,23.5 478.5,21.0"/>
<polyline class="d" points="463.5,43.5 461.0,53.5 463.5,63.5 476.0,71.0 491.0,73.5 501.0,71.0 512.0,66.0"/>
<polyline class="d" points="476.0,71.0 481.0,61.0 493.5,53.5 506.0,53.5 512.0,56.0"/>
<polyline class="c" points="11.9,21.0 13.1,27.2 11.9,32.9 6.9,34.8 1.9,33.5 0.0,32.9"/>
<polyline class="c" points="0.0,37.2 6.2,39.8 8.8,42.2 10.0,49.8 12.5,54.1 18.8,52.2 21.2,51.0 21.9,54.8 25.0,57.2 28.8,58.5 30.6,62.2 27.5,64.8 20.0,64.8 15.0,65.4 12.5,68.5 13.8,72.2 18.8,71.0 25.0,72.2 37.5,71.0 50.0,69.8 58.8,69.1 68.1,69.1 62.5,71.0 57.5,73.5 53.8,76.0 52.5,79.8 55.0,83.5 60.0,86.0 63.8,81.0 65.0,79.8 70.0,79.8 73.8,78.5 80.0,81.0 82.5,83.5 82.5,87.2 87.5,88.5 93.8,91.0 96.2,87.2 100.0,85.4 105.0,87.2 107.5,89.8 105.0,93.5 103.8,96.0 107.5,98.5 108.8,102.2 112.5,104.8 117.5,106.0 120.0,108.0"/>
<polygon class="c" points="1.2,81.0 7.5,77.2 16.2,77.2 17.5,79.1 12.5,81.0 5.0,82.9"/>
<polygon class="c" points="18.8,87.2 25.0,84.8 35.0,82.9 37.5,82.2 52.5,82.2 55.0,83.5 52.5,86.0 37.5,86.0 33.8,88.5 25.0,89.1 20.0,89.1"/>
<polygon class="c" points="40.0,92.2 43.1,90.4 44.8,92.9 43.8,96.0 40.6,94.8"/>
<polygon class="c" points="50.0,89.1 53.1,88.5 55.0,91.0 53.1,93.5 50.0,92.9"/>
<polygon class="c" points="6.9,92.5 9.4,91.6 11.0,93.2 8.8,94.8"/>
<polygon class="c" points="15.0,99.1 18.8,98.5 22.2,101.6 20.0,103.8 16.2,102.2"/>
<polygon class="c" points="0.0,71.0 2.5,72.2 1.9,74.8 0.0,74.1"/>
<polyline class="c" points="120.0,108.0 132.5,114.8 140.0,116.0 150.0,112.2 162.5,109.0 175.0,107.2 178.8,101.0 182.5,88.5 186.2,79.8 200.0,79.8 215.0,81.0 230.0,84.8 245.0,91.0 256.0,94.8"/>
<polygon class="c" points="36.2,113.5 40.0,106.0 50.0,103.5 62.5,100.5 61.2,107.2 52.5,118.5 45.0,126.0 38.8,128.5 36.2,121.0"/>
<polygon class="c" points="3.8,133.5 11.2,132.2 10.0,141.0 8.8,151.0 5.0,152.2 2.5,146.0"/>
<polygon class="c" points="25.0,109.8 28.8,109.0 31.2,111.0 27.5,112.5"/>
<polygon class="c" points="15.0,100.5 18.8,99.8 21.2,102.2 17.5,103.0"/>
<polygon class="c" points="193.0,21.0 197.5,21.0 201.2,23.5 200.0,27.2 196.2,28.5 193.8,24.8"/>
<polygon class="c" points="221.2,23.5 227.5,22.2 235.0,28.5 240.0,36.0 235.0,39.8 228.8,41.0 226.2,33.5"/>
<polyline class="c" points="0.0,357.5 11.2,360.0 16.2,359.4 20.0,366.2 32.5,369.8 43.8,366.9 46.2,373.8 58.8,374.4 71.2,374.4 80.0,377.5 92.5,381.2 103.8,388.1 112.5,387.5 128.0,381.2"/>
<polyline class="c" points="128.0,381.2 135.5,376.2 143.0,371.2 148.0,368.1 156.1,362.5 158.0,363.8 160.5,366.2 165.5,365.6 168.0,365.0 170.5,360.0 171.8,353.8 174.2,355.0 178.0,355.6 186.8,354.4 194.2,352.5 203.0,350.0 210.5,348.8 218.0,350.0 225.5,353.1 231.8,356.2 238.0,355.6 246.8,352.5 251.8,351.9 256.0,355.0"/>
<polyline class="c" points="181.8,358.8 186.8,356.9 190.5,356.2 198.0,356.2 205.5,354.4 208.0,351.2 210.5,351.9 211.1,353.8 208.0,355.0 203.0,356.9 195.5,358.1 186.8,359.4 183.0,359.4"/>
<polyline class="c" points="248.0,353.8 249.2,357.5 245.5,362.5 248.0,366.2 253.0,368.8 256.0,367.5"/>
<polyline class="d" points="135.0,379.5 133.8,392.0 135.0,412.0 145.0,417.0 160.0,427.0 170.0,434.5"/>
<polyline class="d" points="150.0,372.0 147.5,382.0 152.5,392.0 145.0,399.5 136.2,407.0 135.0,414.5"/>
<polyline class="d" points="22.5,540.0 37.5,507.0 50.0,499.5 87.5,489.5 105.0,479.5 125.0,462.0 140.0,452.0 160.0,439.5 175.0,429.5 190.0,417.0 197.5,412.0"/>
<polyline class="d" points="87.5,540.0 112.5,527.0 130.0,514.5 137.5,497.0 142.5,482.0 145.0,474.5 170.0,482.0 195.0,477.0 207.5,469.5 210.0,462.0 207.5,447.0 200.0,444.5 190.0,445.8 175.0,449.5 160.0,459.5 147.5,472.0"/>
<polyline class="d" points="145.0,493.2 200.0,493.2"/>
<polyline class="d" points="200.0,493.2 202.5,507.0 197.5,517.0 200.0,540.0"/>
<polyline class="d" points="217.5,367.0 217.5,382.0 220.0,399.5 220.0,417.0 217.5,432.0 220.0,442.0 250.0,442.0"/>
<polyline class="d" points="195.0,392.0 212.5,397.0 225.0,404.5 235.0,409.5 247.5,412.0 256.0,402.0"/>
<polyline class="d" points="210.0,462.0 225.0,467.0 230.0,474.5 250.0,482.0"/>
<polyline class="d" points="250.0,399.5 250.0,482.0"/>
<polyline class="d" points="0.0,549.5 187.5,549.5 200.0,551.2"/>
<polyline class="d" points="17.5,549.5 20.0,540.0"/>
<polyline class="d" points="87.5,549.5 90.0,540.0"/>
<polyline class="d" points="187.5,549.5 190.0,560.0 200.0,570.0 212.5,577.5 220.0,592.5 230.0,600.0 240.0,610.0 250.0,620.0 256.0,625.0"/>
<polyline class="d" points="200.0,540.0 201.2,552.5 207.5,565.0 217.5,567.5 225.0,577.5 235.0,590.0 245.0,597.5 256.0,612.5"/>
<polyline class="c" points="384.0,140.0 368.5,145.0 356.0,150.0 346.0,153.8 337.2,156.2 324.8,156.9 312.2,156.2 306.0,155.0 303.5,154.4 302.9,163.8 299.8,166.2 291.0,165.6 284.1,165.6 281.0,168.8 274.8,172.5 269.8,170.0 272.2,176.2 274.8,181.2 278.5,187.5 284.8,190.0 293.5,191.9 303.5,192.5 304.8,196.2 307.2,196.2 308.5,192.5 313.5,190.0 321.0,188.8 328.5,186.2 337.2,182.5 339.8,178.8 342.2,175.0 348.5,175.0 352.2,175.0 357.2,175.6 362.9,176.2 358.5,171.2 353.5,166.2 354.8,160.0 361.0,157.5 363.5,155.0 371.0,150.0 384.0,142.5"/>
<polyline class="c" points="256.0,96.0 266.0,106.0 276.0,113.5 293.5,121.0 296.0,119.8 318.5,117.2 338.5,113.5 342.2,114.8 351.0,112.2 356.0,108.5 361.0,103.5 363.5,101.0 376.0,93.5 393.5,81.5 406.0,85.5 416.0,89.8 428.5,94.8 436.0,92.2 441.0,87.2 446.0,85.5 456.0,79.0 461.0,76.5 467.2,77.2 471.0,82.2 470.5,89.8 463.5,96.0 456.0,101.0 451.0,107.2 456.0,113.5 458.5,121.0 463.5,128.5 456.0,131.0 449.8,138.5 448.5,144.8 453.5,151.0 456.0,161.0 457.2,176.0 456.0,194.0"/>
<polyline class="b" points="493.5,107.2 481.0,111.5 479.2,123.5 471.0,126.0 468.5,131.0 463.5,128.5"/>
<polyline class="b" points="493.0,81.0 500.5,82.2 511.8,84.8 513.0,89.8 515.5,91.0 523.0,90.4 534.2,90.4 543.0,86.0 555.5,82.2 568.0,78.5 576.0,76.0"/>
<polyline class="b" points="493.0,81.0 491.1,88.5 489.2,96.0 488.6,102.2 491.8,108.0"/>
<polyline class="d" points="478.0,21.0 478.0,33.5 473.0,38.5 464.2,41.0 460.5,48.5 458.0,56.0 465.5,64.8 463.0,71.0 456.8,76.0"/>
<polyline class="d" points="473.0,38.5 474.2,49.8 485.5,53.5 494.2,54.8 496.8,58.5 491.8,64.8 488.0,71.0 485.5,74.8 478.0,74.8 466.8,71.0 460.5,71.0"/>
<polyline class="d" points="494.2,54.8 506.8,53.5 518.0,57.2 529.2,53.5 541.8,51.0"/>
<polyline class="d" points="506.8,71.0 518.0,77.2 529.2,83.5 535.5,86.0"/>
<polyline class="d" points="506.8,71.0 498.0,77.2 494.2,79.8"/>
<polyline class="d" points="535.5,32.2 543.0,28.5 554.2,27.2 566.8,26.0 576.0,24.8"/>
<polyline class="d" points="535.5,32.2 534.2,39.8 540.5,44.8 548.0,44.8 558.0,46.0 566.8,49.8 576.0,51.0"/>
<polyline class="d" points="560.5,51.0 556.8,58.5 556.8,68.5 560.5,73.5 564.2,78.5"/>
<polyline class="b" points="494.2,107.0 494.2,109.5 490.5,112.0 479.2,112.0 478.6,123.2 470.5,127.0 469.2,132.0 463.0,129.5 456.8,127.0"/>
<polyline class="d" points="503.0,110.8 499.2,119.5 505.5,122.0 508.0,127.0 511.8,132.0 515.5,134.5 516.1,140.8 518.0,144.5 520.5,147.0 523.0,145.8 535.5,148.2 548.0,150.8 560.5,152.0 576.0,152.0"/>
<polyline class="d" points="480.5,148.2 485.5,152.0 498.0,154.5 508.0,154.5 513.0,157.0 515.5,152.0 518.0,150.8"/>
<polyline class="d" points="473.0,134.5 474.2,144.5 473.0,157.0 474.2,169.5 475.5,179.5 483.0,182.0 491.8,178.2 504.2,177.0 514.2,179.5 523.0,178.2 535.5,174.5 548.0,169.5 558.0,172.0 563.0,177.0"/>
<polyline class="d" points="560.5,169.5 576.0,169.5"/>
<polyline class="d" points="565.5,132.0 564.2,144.5 565.5,148.2"/>
<polyline class="d" points="468.0,189.5 473.0,184.5 480.5,180.8"/>
<polyline class="d" points="459.2,162.0 470.5,162.0"/>
<polyline class="b" points="460.0,193.6 472.0,193.2 483.0,193.8 481.5,194.5"/>
<polygon class="c" points="564.0,107.2 572.8,106.0 574.0,116.0 584.0,123.5 591.5,128.5 590.2,132.2 581.5,131.0 571.5,126.0 565.2,119.8 563.5,113.5"/>
<polyline class="c" points="460.2,194.0 459.0,197.8 451.5,202.8 446.5,206.5 442.8,210.2 441.5,219.0 440.9,226.5 434.0,230.2 432.8,235.2 429.0,244.0 425.2,251.5 421.5,256.5 419.0,264.0 415.2,271.5 414.0,276.5 413.4,281.0"/>
<polyline class="b" points="481.5,194.0 477.8,199.0 484.0,201.5 487.8,205.2 490.2,210.2 490.9,215.2 486.5,219.0 479.0,225.2 475.2,230.2 479.0,234.0 474.0,232.8 465.2,234.0 460.2,237.8 457.8,242.8 461.5,246.5 457.8,250.2 452.8,255.2 446.5,259.6 439.0,262.8 436.5,266.5 434.0,272.1 427.8,273.4 425.2,272.1 415.2,272.1"/>
<polyline class="c" points="413.4,280.0 412.8,283.8 407.1,285.6 405.9,292.5 404.0,301.2 401.5,312.5 399.0,321.2 395.2,330.0 391.5,336.2 387.8,342.5 384.0,348.1"/>
<polygon class="c" points="436.5,285.0 439.0,282.5 442.1,283.1 442.8,287.5 440.9,291.2 438.4,290.0"/>
<polyline class="b" points="439.0,291.9 437.8,296.2 438.4,305.0 437.8,315.0 437.1,323.8 436.5,332.5 437.8,338.8 439.0,341.2"/>
<polygon class="c" points="434.0,341.2 437.8,340.0 439.6,341.2 439.0,350.0 437.8,357.5 436.5,362.5 434.0,361.2 431.5,360.0 430.2,355.0 430.2,348.8 432.1,343.8"/>
<polyline class="b" points="431.5,362.5 430.2,367.0"/>
<polyline class="b" points="439.0,291.9 442.8,290.6 449.0,289.4 454.0,291.2 459.0,293.8 461.5,297.5 465.2,301.2 471.5,302.5 477.8,306.2 484.0,308.8 490.2,310.0 496.5,310.6 501.5,311.9 506.5,308.8 512.0,306.2"/>
<polyline class="c" points="384.0,348.0 376.0,356.0 366.0,364.0 361.0,367.5"/>
<polyline class="d" points="448.0,261.9 455.5,263.8 461.8,267.5 473.0,263.8 480.5,266.2 488.0,265.0 500.5,265.6 508.0,270.0 515.5,275.0 525.5,281.2 535.5,291.2"/>
<polyline class="d" points="484.2,262.5 485.5,271.2 488.0,275.0 480.5,277.5 478.0,282.5 479.2,290.0 481.8,297.5 486.8,305.0 485.5,308.8"/>
<polyline class="d" points="545.5,250.0 554.2,255.0 563.0,258.8 570.5,263.8 576.0,267.5"/>
<polyline class="d" points="451.8,265.0 453.0,272.5 454.2,280.0 451.8,286.2"/>
<polyline class="d" points="458.0,261.2 459.2,270.0 456.8,278.8"/>
<polyline class="c" points="331.0,540.0 332.2,545.0 336.0,550.0 338.5,560.0 346.0,567.5 351.0,577.5 354.8,587.5 357.2,593.8 354.8,597.5 358.5,602.5 363.5,610.0 371.0,620.0 378.5,632.5 386.0,645.0 392.2,655.0 398.5,667.5 406.0,682.5 411.0,695.0 416.0,705.0 417.2,711.5"/>
<polyline class="c" points="426.0,540.0 431.0,545.0 438.5,555.0 448.5,570.0 453.5,577.5 463.5,590.0 469.8,599.5"/>
<polygon class="c" points="354.0,557.0 357.2,555.5 361.0,558.8 359.0,561.2 355.5,560.0"/>
<polyline class="c" points="469.9,600.0 474.2,605.0 479.2,613.8 484.2,622.5 488.0,630.0 494.2,632.5 497.4,636.2 494.9,641.2 495.5,645.0 499.2,648.1 501.8,647.5 505.5,651.2 509.2,653.8 513.0,658.8 515.5,663.8 516.8,668.8 520.5,673.8 524.2,678.8 526.1,687.0"/>
<polygon class="c" points="489.2,642.5 488.0,647.5 488.0,651.2 486.1,653.8 488.0,655.6 495.5,657.5 500.5,660.0 504.2,665.0 506.8,666.9 510.5,665.0 509.2,662.5 505.5,661.2 501.8,658.8 498.0,657.5 491.8,656.2 490.5,651.2"/>
<polygon class="c" points="503.0,656.9 504.9,656.2 505.8,658.1 504.0,658.8"/>
<polyline class="d" points="256.0,615.0 261.0,620.0 271.0,627.5 281.0,622.5 291.0,622.5 298.5,627.5 301.0,640.0 296.0,650.0 288.5,657.5 283.5,665.0 283.5,675.0 288.5,685.0 296.0,695.0 303.5,705.0 306.0,713.0"/>
<polyline class="d" points="256.0,622.5 266.0,632.5 276.0,635.0 286.0,630.0 293.5,632.5 296.0,642.5 291.0,652.5 283.5,660.0 278.5,670.0 281.0,680.0 286.0,690.0 293.5,700.0 298.5,713.0"/>
<polyline class="c" points="526.0,687.0 530.0,700.0 534.0,712.0"/>
<polygon class="c" points="575.8,40.4 580.8,37.9 585.8,38.5 587.0,41.0 583.2,43.5 587.0,47.2 590.8,50.4 593.2,47.2 599.5,42.2 604.5,37.2 609.5,32.2 612.0,28.5 614.5,26.6 613.2,33.5 609.5,36.0 607.0,37.2 602.0,39.8 594.5,42.2 588.2,46.0 583.2,47.2 579.5,44.8"/>
<polyline class="d" points="534.5,33.5 539.5,28.5 544.5,26.0 555.8,26.0 568.2,26.0 577.0,24.8"/>
<polyline class="d" points="512.0,58.5 519.5,56.0 530.8,53.5 543.2,51.0"/>
<polyline class="d" points="533.2,37.2 535.8,42.2 543.2,44.8 552.0,44.8 559.5,46.0 565.8,48.5 572.0,49.8 578.2,47.2"/>
<polyline class="d" points="557.0,53.5 555.8,62.2 557.0,68.5 563.2,73.5 564.5,78.5"/>
<polyline class="d" points="512.0,74.8 524.5,81.0 535.8,86.0"/>
<polyline class="d" points="592.0,89.8 597.0,96.0 594.5,102.2 592.0,108.0"/>
<polyline class="b" points="512.0,305.2 537.0,291.5 562.0,277.8 587.0,265.2 602.0,257.8 624.5,246.5 649.5,234.0 674.5,221.5 702.0,207.8 714.5,205.2 722.0,194.0"/>
<polyline class="b" points="603.2,258.5 609.5,276.5 617.0,301.5 614.0,304.0 615.8,311.5 627.0,309.8 629.5,316.5 622.0,321.5 612.0,327.8 587.0,334.0 562.0,340.2 537.0,346.5 512.0,353.5"/>
<polyline class="b" points="622.0,322.0 649.5,326.5 687.0,331.0 712.0,344.0 737.0,356.5 755.8,367.0"/>
<polyline class="b" points="576.0,337.5 510.5,353.8 561.8,405.0 548.0,411.2 543.0,417.0"/>
<polyline class="d" points="560.5,346.2 556.8,358.8 558.0,370.0 566.8,377.5 576.0,385.0"/>
<polyline class="b" points="543.0,417.0 544.5,413.2 537.0,430.8 512.0,434.5"/>
<polyline class="b" points="574.5,76.5 587.0,79.8 597.0,86.5 617.0,88.5 637.0,88.0 662.0,82.2 687.0,72.2 707.0,66.0 727.0,67.2 740.0,67.8"/>
<polyline class="b" points="768.0,92.2 737.0,96.0 730.8,108.5 734.5,133.5 729.5,153.5 727.0,171.0 724.5,194.0"/>
<polyline class="d" points="558.2,367.0 572.0,382.0 587.0,384.5 612.0,382.5 632.0,382.0 652.0,384.5 667.0,390.8 687.0,392.0 707.0,393.2 722.0,398.2 737.0,403.2 747.0,410.8 754.5,419.5 762.0,425.8"/>
<polyline class="d" points="762.0,425.8 749.5,434.5 732.0,444.5 717.0,452.0 707.0,459.5 703.2,467.0 702.0,477.0 700.8,487.0 692.0,490.8 682.0,492.0 667.0,497.0 652.0,504.5 637.0,510.8 622.0,517.0 614.5,522.0 607.0,523.2 594.5,522.0 577.0,519.5 562.0,517.0 552.0,507.0 549.5,494.5 548.2,489.5 542.0,492.0 537.0,497.0 532.0,503.2 522.0,502.0 512.0,500.8"/>
<polyline class="d" points="697.0,489.5 712.0,490.8 727.0,488.2 742.0,489.5 768.0,490.8"/>
<polyline class="d" points="614.5,523.2 627.0,529.5 642.0,537.0 649.5,540.0"/>
<polyline class="d" points="823.0,367.0 818.0,379.5 810.5,397.0"/>
<polyline class="d" points="905.5,367.0 903.0,377.0 893.0,389.5 883.0,399.5 875.5,417.0 868.0,429.5 863.0,439.5"/>
<polyline class="d" points="960.5,367.0 959.2,377.0 958.0,387.0 968.0,388.2 988.0,392.0 998.0,402.0 1008.0,417.0 1010.5,429.5 1008.0,442.0 1005.5,454.5 1003.0,467.0 1000.5,477.0"/>
<polyline class="d" points="1000.5,404.5 1010.5,402.0 1024.0,399.5"/>
<polyline class="d" points="768.0,489.5 788.0,494.5 800.5,504.5 818.0,509.5 838.0,515.8 855.5,512.0 863.0,517.0 868.0,527.0 873.0,540.0"/>
<polyline class="d" points="1000.5,477.0 988.0,479.5 968.0,487.0 953.0,497.0 943.0,512.0 938.0,524.5 933.0,540.0"/>
<polyline class="d" points="654.5,540.0 657.0,550.0 664.5,565.0 672.0,572.5 674.5,576.2 664.5,585.0 659.5,595.0 657.0,602.5 654.5,612.5 659.5,615.0 662.0,627.5 662.0,645.0 662.0,662.5 664.5,670.0 674.5,668.8 687.0,666.2 699.5,665.0 707.0,657.5 717.0,656.2 729.5,657.5 739.5,657.5 749.5,655.0 762.0,650.0 768.0,647.5"/>
<polyline class="d" points="657.0,600.0 647.0,598.8 637.0,600.0 627.0,600.0 617.0,597.5 607.0,592.5 602.0,588.8 592.0,590.0 582.0,593.8 574.5,587.5 562.0,580.0 557.0,570.0 547.0,565.0 534.5,565.0 522.0,565.0 512.0,567.5"/>
<polyline class="d" points="512.0,600.0 522.0,602.5 524.5,610.0 522.0,615.0 527.0,627.5 537.0,632.5 547.0,640.0 554.5,652.5 562.0,662.5 564.5,675.0 562.0,690.0 563.2,695.0 549.5,697.5 537.0,702.5 532.0,705.0 529.5,713.0"/>
<polyline class="d" points="749.5,655.0 747.0,670.0 749.5,682.5 759.5,687.5 764.5,695.0 768.0,700.0"/>
<polyline class="d" points="875.5,540.0 885.5,543.8 900.5,545.0 908.0,551.2 908.0,562.5 918.0,567.5 920.5,557.5 928.0,560.0 933.0,565.0 943.0,572.5 958.0,580.0 973.0,590.0 988.0,595.0 1003.0,602.5 1018.0,605.0 1024.0,606.2"/>
<polyline class="d" points="903.0,572.5 913.0,585.0 908.0,592.5 893.0,600.0 890.5,615.0 898.0,627.5 903.0,640.0 908.0,650.0 905.5,656.2 888.0,656.2 873.0,657.5 863.0,665.0 850.5,672.5 835.5,677.5 828.0,682.5 825.5,695.0 818.0,702.5 793.0,702.5 783.0,697.5 775.5,700.0 773.0,713.0"/>
<polyline class="d" points="768.0,637.5 773.0,635.0 775.5,622.5 783.0,620.0 798.0,605.0 810.5,597.5 823.0,592.5 833.0,585.0 843.0,576.2 855.5,570.0 868.0,567.5 875.5,572.5 883.0,577.5 893.0,580.0 900.5,575.0 903.0,572.5"/>
<polyline class="d" points="400.0,486.2 425.0,484.5 450.0,482.5 465.0,487.5 475.0,495.0 485.0,503.8 505.0,500.0 512.0,500.5"/>
<polyline class="b" points="740.0,68.5 752.5,66.0 768.8,62.2 773.8,58.5 778.1,55.4 782.5,57.9 785.6,59.8 786.9,66.0 786.2,68.5"/>
<polyline class="b" points="786.9,66.0 795.0,64.1 798.8,59.8 805.0,53.5 808.1,52.9 815.0,55.4 821.2,54.1 826.2,53.5 835.0,56.0 842.5,59.1 850.0,60.4 860.0,61.0 865.0,58.5 868.0,57.2"/>
<polyline class="b" points="787.5,68.5 777.5,77.2 767.5,84.8 758.8,92.2 752.5,94.1 740.0,96.0"/>
<polyline class="b" points="881.9,21.0 880.6,26.0 888.8,28.5 896.2,32.2 900.0,36.0 899.4,41.0 900.0,48.5 905.0,52.2 910.0,56.0 911.2,58.5 909.4,61.0"/>
<polyline class="b" points="867.5,57.2 872.5,55.4 880.0,57.2 883.1,61.0 880.0,66.0 881.2,71.0 885.6,72.2 891.2,68.5 897.5,64.8 902.5,62.9 909.4,62.9"/>
<polyline class="b" points="909.4,61.0 908.8,67.2 912.5,69.8 915.0,73.5 913.8,78.5 913.8,82.2 918.8,83.5 922.5,87.2 922.5,92.2 921.2,96.0 926.2,99.8 931.2,101.0 934.4,103.5 935.0,108.0"/>
<polyline class="c" points="924.4,21.0 925.0,27.2 932.5,31.0 935.0,37.2 936.2,46.0 936.2,53.5 940.0,59.8 945.0,64.8 950.0,64.1 953.8,61.0 956.2,57.2 958.8,57.2 962.5,54.8 967.5,52.2 963.8,48.5 961.2,44.8 956.2,39.8 960.0,37.2 958.8,34.8 951.2,32.9 946.2,31.0 943.1,27.2 942.5,23.5 945.0,21.0"/>
<polyline class="b" points="924.8,100.0 932.2,101.9 934.8,106.2 936.0,112.5 938.5,118.8 939.1,123.1 946.0,122.5 952.2,125.0 957.2,130.0 961.0,132.5 966.0,131.9 976.0,130.6 981.0,133.1 988.5,132.5 989.1,134.4 983.5,136.9 973.5,138.8 971.6,141.2 971.0,145.0 971.6,150.0 976.0,155.0 979.1,158.8 978.5,162.5 981.0,165.0 979.8,168.8 973.5,170.0 967.9,172.5 964.8,176.2 961.0,178.8 958.5,181.2 956.0,185.0 955.4,187.0"/>
<polyline class="d" points="768.0,37.2 780.5,36.0 798.0,38.5 818.0,37.2 838.0,38.5"/>
<polyline class="d" points="818.0,26.0 818.0,37.2"/>
<polyline class="d" points="838.0,38.5 840.5,48.5 835.5,53.5"/>
<polyline class="d" points="908.0,21.0 908.0,36.0 903.0,41.0"/>
<polyline class="d" points="788.0,66.0 793.0,73.5 800.5,78.5 813.0,83.5 825.5,83.5 838.0,78.5 850.5,73.5 860.5,68.5 873.0,68.5"/>
<polyline class="d" points="800.5,78.5 798.0,86.0 790.5,93.5 780.5,101.0"/>
<polyline class="d" points="873.0,91.0 878.0,101.0 885.5,108.5 893.0,111.0 903.0,103.5 913.0,96.0"/>
<polyline class="d" points="915.5,66.0 928.0,73.5 943.0,78.5 958.0,83.5 973.0,88.5 988.0,93.5 1003.0,96.0 1018.0,98.5 1024.0,98.5"/>
<polyline class="d" points="953.0,103.5 968.0,101.0 993.0,101.0 1018.0,101.0"/>
<polyline class="d" points="768.0,175.0 793.0,174.0 818.0,169.5 820.5,157.0 815.5,152.0 828.0,144.5 838.0,139.5 840.5,127.0 848.0,114.5 853.0,107.0"/>
<polyline class="d" points="793.0,174.0 794.2,189.5 803.0,199.5 815.5,200.8"/>
<polyline class="d" points="815.5,152.0 833.0,153.2 840.5,157.0 850.5,167.0 863.0,174.5 878.0,182.0 885.5,187.0 893.0,177.0 900.5,167.0 908.0,162.0 910.5,147.0 908.0,132.0 903.0,122.0 905.5,112.0 903.0,107.0"/>
<polyline class="d" points="860.5,137.0 868.0,132.0 883.0,130.8 898.0,129.5 918.0,128.2"/>
<polyline class="d" points="908.0,189.5 918.0,182.0 933.0,192.0 943.0,189.5 953.0,174.5 958.0,169.5"/>
<polyline class="d" points="978.0,162.0 993.0,169.5 1008.0,182.0 1024.0,187.0"/>
<polyline class="b" points="756.0,367.0 768.0,373.2 808.0,402.0 858.0,437.0 896.0,464.2"/>
<polyline class="b" points="896.0,464.4 906.0,471.2 933.5,473.8 958.5,476.2 989.8,478.1 1001.0,476.5 1024.0,479.4"/>
<polyline class="b" points="1001.0,476.5 1008.5,468.8 1016.0,460.0 1021.0,451.2 1024.0,445.0"/>
<polyline class="d" points="1009.8,420.0 1008.5,432.5 1006.0,445.0 1003.5,457.5 1002.2,470.0 1001.6,475.0"/>
<polyline class="d" points="948.5,507.0 956.0,495.0 966.0,487.5 977.2,482.5 988.5,480.0"/>
<polyline class="d" points="906.6,363.5 905.4,369.8 903.5,374.8 901.6,380.4 897.2,384.8"/>
<polyline class="d" points="958.5,361.0 961.0,364.8 959.8,371.0 958.5,377.2 957.9,383.5 958.5,387.2 966.0,388.5 977.2,389.8 986.0,391.0 993.5,394.8 997.2,399.8 1001.0,404.1 1003.5,408.5 1006.0,416.0"/>
<polyline class="d" points="1001.0,404.1 1006.0,402.9 1013.5,401.0 1021.0,399.8 1024.0,398.5"/>
<polygon class="c" points="1008.5,384.8 1012.2,383.5 1016.0,382.9 1019.8,384.1 1024.0,384.8 1024.0,387.9 1019.8,388.5 1016.0,387.9 1012.2,388.5 1009.1,387.9"/>
<polygon class="c" points="1009.8,390.4 1013.5,389.5 1017.9,390.0 1022.2,391.0 1024.0,391.6 1024.0,393.8 1019.8,394.1 1014.8,393.8 1010.4,392.9"/>
<g id="frame" fill="none" stroke="#1a1a1a" stroke-width="1" stroke-dasharray="2 4" opacity=".75"><line x1="0" y1="21.5" x2="1024" y2="21.5"/><line x1="0" y1="711.5" x2="1024" y2="711.5"/><line x1="0.5" y1="21" x2="0.5" y2="712"/><line x1="1023.5" y1="21" x2="1023.5" y2="712"/></g>
</svg>
<div class="t" id="bl" style="left:3px;top:705px;font-size:14.1px">ECMWF MODEL RUN: 20190515T00Z</div>
<div class="t" id="br" style="left:885px;top:705.5px;font-size:14.5px">ArabiaWeather Inc.</div>
</body></html>
